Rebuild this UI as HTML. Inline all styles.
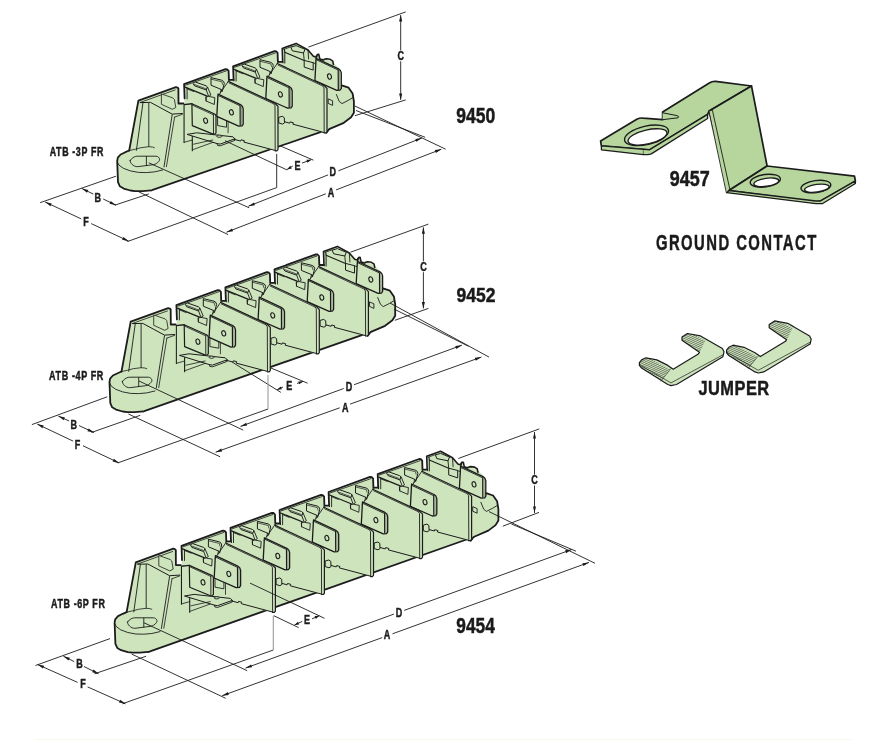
<!DOCTYPE html>
<html><head><meta charset="utf-8"><style>
html,body{margin:0;padding:0;background:#fff;}
svg{display:block;} text{-webkit-font-smoothing:antialiased;}
</style></head><body>
<svg width="870" height="740" viewBox="0 0 870 740">
<rect width="870" height="740" fill="#fff"/>
<g style="will-change:transform">
<polygon points="151.2,190.3 329.1,129.2 332.2,78.4 282.2,62.9 183.4,104.7 138.4,100.7" fill="#cde4bc"/>
<polyline points="151.2,190.3 329.1,129.2" fill="none" stroke="#1c1c1c" stroke-width="1.8" stroke-linejoin="round" stroke-linecap="round"/>
<polygon points="282.2,48.4 296.1,43.4 308.0,50.0 313.4,56.2 316.5,57.2 317.2,54.6 318.8,54.4 319.8,59.0 324.4,58.0 333.1,62.4 339.9,68.8 341.7,85.4 348.6,87.7 352.6,93.4 353.9,101.4 353.9,112.7 351.1,117.3 343.8,122.8 329.1,129.2 326.3,132.9 282.2,108.4" fill="#cde4bc"/>
<polyline points="282.7,62.6 282.2,48.4 296.1,43.4 308.0,50.0 313.4,56.2 316.5,57.2 317.2,54.6 318.8,54.4 319.8,59.0 323.1,60.1 324.7,59.2 326.3,58.8 330.1,59.3 332.8,61.2 333.4,64.4" fill="none" stroke="#1c1c1c" stroke-width="1.6" stroke-linejoin="round" stroke-linecap="round"/>
<polyline points="283.7,49.4 290.9,46.8" fill="none" stroke="#1c1c1c" stroke-width="0.8" stroke-linejoin="round" stroke-linecap="round"/>
<polyline points="284.8,52.2 284.8,63.1" fill="none" stroke="#1c1c1c" stroke-width="1.0" stroke-linejoin="round" stroke-linecap="round"/>
<polyline points="284.4,49.4 284.8,52.2 304.2,60.4" fill="none" stroke="#1c1c1c" stroke-width="1.1" stroke-linejoin="round" stroke-linecap="round"/>
<polyline points="313.2,62.7 316.2,64.0" fill="none" stroke="#1c1c1c" stroke-width="0.9" stroke-linejoin="round" stroke-linecap="round"/>
<polygon points="290.9,47.1 296.1,45.6 305.0,49.3 303.5,53.0 292.3,50.8" fill="#cde4bc" stroke="#1c1c1c" stroke-width="1.0" stroke-linejoin="round"/>
<polyline points="303.5,53.0 304.2,60.4" fill="none" stroke="#1c1c1c" stroke-width="0.9" stroke-linejoin="round" stroke-linecap="round"/>
<polyline points="308.0,50.0 308.6,59.0" fill="none" stroke="#1c1c1c" stroke-width="0.9" stroke-linejoin="round" stroke-linecap="round"/>
<polygon points="304.2,60.4 313.2,62.7 313.2,70.1 304.2,67.1" fill="#cde4bc" stroke="#1c1c1c" stroke-width="1.0" stroke-linejoin="round"/>
<polyline points="316.2,55.4 316.2,80.4" fill="none" stroke="#1c1c1c" stroke-width="0.9" stroke-linejoin="round" stroke-linecap="round"/>
<polyline points="339.9,88.9 341.7,85.4 348.6,87.7 352.6,93.4 353.9,101.4 353.9,112.7 351.1,117.3 343.8,122.8 329.1,129.2 326.3,132.9" fill="none" stroke="#1c1c1c" stroke-width="1.8" stroke-linejoin="round" stroke-linecap="round"/>
<polyline points="336.4,94.5 339.2,101.4 342.0,103.6 348.2,100.4 353.2,97.4" fill="none" stroke="#1c1c1c" stroke-width="0.9" stroke-linejoin="round" stroke-linecap="round"/>
<polygon points="328.2,98.9 332.6,100.8 332.6,105.4 328.2,103.4" fill="#cde4bc" stroke="#1c1c1c" stroke-width="0.9" stroke-linejoin="round"/>
<polygon points="316.1,58.3 338.5,68.8 340.4,70.4 341.3,72.9 341.3,88.3 340.2,90.0 336.8,90.3 314.9,80.6" fill="#cde4bc" stroke="#1c1c1c" stroke-width="1.3" stroke-linejoin="round"/>
<polyline points="338.2,70.2 338.3,89.6" fill="none" stroke="#1c1c1c" stroke-width="1.2" stroke-linejoin="round" stroke-linecap="round"/>
<polyline points="339.6,70.8 339.7,89.2" fill="none" stroke="#555" stroke-width="0.5" stroke-linejoin="round" stroke-linecap="round"/>
<polyline points="316.5,59.8 338.2,70.0" fill="none" stroke="#1c1c1c" stroke-width="0.9" stroke-linejoin="round" stroke-linecap="round"/>
<ellipse cx="329.5" cy="76.5" rx="1.9" ry="2.7" fill="#cde4bc" stroke="#1c1c1c" stroke-width="1.1" transform="rotate(-15 329.5 76.5)"/>
<polygon points="233.1,66.3 274.5,51.2 277.7,52.8 278.5,61.7 282.5,61.7 282.5,106.3 233.8,106.3" fill="#cde4bc"/>
<polyline points="233.6,80.5 233.1,66.3 274.5,51.2 276.2,51.4 277.6,52.9 277.9,61.9 282.5,61.9" fill="none" stroke="#1c1c1c" stroke-width="1.8" stroke-linejoin="round" stroke-linecap="round"/>
<polyline points="234.6,67.3 275.5,52.9" fill="none" stroke="#1c1c1c" stroke-width="0.8" stroke-linejoin="round" stroke-linecap="round"/>
<polyline points="236.1,70.3 236.1,81.0" fill="none" stroke="#1c1c1c" stroke-width="0.9" stroke-linejoin="round" stroke-linecap="round"/>
<polyline points="234.1,69.3 256.2,78.3" fill="none" stroke="#1c1c1c" stroke-width="1.3" stroke-linejoin="round" stroke-linecap="round"/>
<polyline points="235.9,70.9 242.7,73.7" fill="none" stroke="#1c1c1c" stroke-width="0.8" stroke-linejoin="round" stroke-linecap="round"/>
<polygon points="242.1,65.7 243.1,64.5 244.3,64.1 255.1,67.9 256.5,69.1 255.3,72.1 243.5,67.9" fill="#cde4bc" stroke="#1c1c1c" stroke-width="1.0" stroke-linejoin="round"/>
<polyline points="243.3,66.5 254.5,70.7" fill="none" stroke="#1c1c1c" stroke-width="0.7" stroke-linejoin="round" stroke-linecap="round"/>
<polygon points="255.3,72.1 256.5,69.1 259.9,77.1 257.7,78.5" fill="#cde4bc" stroke="#1c1c1c" stroke-width="0.9" stroke-linejoin="round"/>
<polygon points="254.8,79.0 257.7,78.5 263.8,79.7 263.3,86.6 255.1,83.1" fill="#cde4bc" stroke="#1c1c1c" stroke-width="0.9" stroke-linejoin="round"/>
<polyline points="255.1,79.1 255.1,83.1" fill="none" stroke="#1c1c1c" stroke-width="0.9" stroke-linejoin="round" stroke-linecap="round"/>
<polygon points="260.0,59.7 270.7,62.3 272.7,63.7 273.3,65.5 271.1,73.7 270.1,71.5 260.0,67.3" fill="#cde4bc" stroke="#1c1c1c" stroke-width="1.0" stroke-linejoin="round"/>
<polyline points="260.3,61.3 270.9,63.9 271.5,66.5" fill="none" stroke="#1c1c1c" stroke-width="0.7" stroke-linejoin="round" stroke-linecap="round"/>
<polyline points="270.1,71.5 269.3,74.9" fill="none" stroke="#1c1c1c" stroke-width="0.8" stroke-linejoin="round" stroke-linecap="round"/>
<polyline points="277.9,62.6 266.7,78.8" fill="none" stroke="#1c1c1c" stroke-width="0.9" stroke-linejoin="round" stroke-linecap="round"/>
<polygon points="277.3,63.5 322.7,84.7 324.7,86.1 327.0,88.5 327.0,131.7 325.9,132.9 324.1,132.9 282.1,121.1 277.3,118.3" fill="#cde4bc"/>
<polyline points="277.3,63.5 322.7,84.7 324.7,86.1 327.0,88.5 327.0,131.7 325.9,132.9 324.1,132.9" fill="none" stroke="#1c1c1c" stroke-width="1.2" stroke-linejoin="round" stroke-linecap="round"/>
<polyline points="322.9,86.1 324.0,87.9 324.2,132.5" fill="none" stroke="#1c1c1c" stroke-width="0.9" stroke-linejoin="round" stroke-linecap="round"/>
<polyline points="278.1,65.1 322.5,85.9" fill="none" stroke="#1c1c1c" stroke-width="0.8" stroke-linejoin="round" stroke-linecap="round"/>
<polyline points="282.1,121.1 289.7,123.2 290.1,121.9 293.3,122.7 292.9,124.2 324.1,132.5" fill="none" stroke="#1c1c1c" stroke-width="1.0" stroke-linejoin="round" stroke-linecap="round"/>
<polygon points="278.7,117.3 282.3,116.3 284.3,117.7 284.5,122.9 282.5,124.1 278.7,122.9" fill="#cde4bc" stroke="#1c1c1c" stroke-width="1.0" stroke-linejoin="round"/>
<polygon points="267.0,76.2 289.4,86.7 291.3,88.3 292.2,90.8 292.2,106.2 291.1,107.9 287.7,108.2 265.8,98.5" fill="#cde4bc" stroke="#1c1c1c" stroke-width="1.3" stroke-linejoin="round"/>
<polyline points="289.1,88.1 289.2,107.5" fill="none" stroke="#1c1c1c" stroke-width="1.2" stroke-linejoin="round" stroke-linecap="round"/>
<polyline points="290.5,88.7 290.6,107.1" fill="none" stroke="#555" stroke-width="0.5" stroke-linejoin="round" stroke-linecap="round"/>
<polyline points="267.4,77.7 289.1,87.9" fill="none" stroke="#1c1c1c" stroke-width="0.9" stroke-linejoin="round" stroke-linecap="round"/>
<ellipse cx="280.4" cy="94.4" rx="1.9" ry="2.7" fill="#cde4bc" stroke="#1c1c1c" stroke-width="1.1" transform="rotate(-15 280.4 94.4)"/>
<polygon points="184.1,84.2 225.5,69.1 228.7,70.7 229.5,79.6 233.5,79.6 233.5,124.2 184.8,124.2" fill="#cde4bc"/>
<polyline points="184.6,98.4 184.1,84.2 225.5,69.1 227.2,69.3 228.6,70.8 228.9,79.8 233.5,79.8" fill="none" stroke="#1c1c1c" stroke-width="1.8" stroke-linejoin="round" stroke-linecap="round"/>
<polyline points="185.6,85.2 226.5,70.8" fill="none" stroke="#1c1c1c" stroke-width="0.8" stroke-linejoin="round" stroke-linecap="round"/>
<polyline points="187.1,88.2 187.1,98.9" fill="none" stroke="#1c1c1c" stroke-width="0.9" stroke-linejoin="round" stroke-linecap="round"/>
<polyline points="185.1,87.2 207.2,96.2" fill="none" stroke="#1c1c1c" stroke-width="1.3" stroke-linejoin="round" stroke-linecap="round"/>
<polyline points="186.9,88.8 193.7,91.6" fill="none" stroke="#1c1c1c" stroke-width="0.8" stroke-linejoin="round" stroke-linecap="round"/>
<polygon points="193.1,83.6 194.1,82.4 195.3,82.0 206.1,85.8 207.5,87.0 206.3,90.0 194.5,85.8" fill="#cde4bc" stroke="#1c1c1c" stroke-width="1.0" stroke-linejoin="round"/>
<polyline points="194.3,84.4 205.5,88.6" fill="none" stroke="#1c1c1c" stroke-width="0.7" stroke-linejoin="round" stroke-linecap="round"/>
<polygon points="206.3,90.0 207.5,87.0 210.9,95.0 208.7,96.4" fill="#cde4bc" stroke="#1c1c1c" stroke-width="0.9" stroke-linejoin="round"/>
<polygon points="205.8,96.9 208.7,96.4 214.8,97.6 214.3,104.5 206.1,101.0" fill="#cde4bc" stroke="#1c1c1c" stroke-width="0.9" stroke-linejoin="round"/>
<polyline points="206.1,97.0 206.1,101.0" fill="none" stroke="#1c1c1c" stroke-width="0.9" stroke-linejoin="round" stroke-linecap="round"/>
<polygon points="211.0,77.6 221.7,80.2 223.7,81.6 224.3,83.4 222.1,91.6 221.1,89.4 211.0,85.2" fill="#cde4bc" stroke="#1c1c1c" stroke-width="1.0" stroke-linejoin="round"/>
<polyline points="211.3,79.2 221.9,81.8 222.5,84.4" fill="none" stroke="#1c1c1c" stroke-width="0.7" stroke-linejoin="round" stroke-linecap="round"/>
<polyline points="221.1,89.4 220.3,92.8" fill="none" stroke="#1c1c1c" stroke-width="0.8" stroke-linejoin="round" stroke-linecap="round"/>
<polyline points="228.9,80.5 217.7,96.7" fill="none" stroke="#1c1c1c" stroke-width="0.9" stroke-linejoin="round" stroke-linecap="round"/>
<polygon points="228.3,81.4 273.7,102.6 275.7,104.0 278.0,106.4 278.0,149.6 276.9,150.8 275.1,150.8 233.1,139.0 228.3,136.2" fill="#cde4bc"/>
<polyline points="228.3,81.4 273.7,102.6 275.7,104.0 278.0,106.4 278.0,149.6 276.9,150.8 275.1,150.8" fill="none" stroke="#1c1c1c" stroke-width="1.2" stroke-linejoin="round" stroke-linecap="round"/>
<polyline points="273.9,104.0 275.0,105.8 275.2,150.4" fill="none" stroke="#1c1c1c" stroke-width="0.9" stroke-linejoin="round" stroke-linecap="round"/>
<polyline points="229.1,83.0 273.5,103.8" fill="none" stroke="#1c1c1c" stroke-width="0.8" stroke-linejoin="round" stroke-linecap="round"/>
<polyline points="233.1,139.0 240.7,141.1 241.1,139.8 244.3,140.6 243.9,142.1 275.1,150.4" fill="none" stroke="#1c1c1c" stroke-width="1.0" stroke-linejoin="round" stroke-linecap="round"/>
<polygon points="217.6,116.7 226.5,118.3 226.5,127.2 217.6,125.6" fill="#cde4bc" stroke="#1c1c1c" stroke-width="0.9" stroke-linejoin="round"/>
<polyline points="228.1,120.8 228.1,132.8" fill="none" stroke="#1c1c1c" stroke-width="0.8" stroke-linejoin="round" stroke-linecap="round"/>
<polygon points="218.0,94.1 240.4,104.6 242.3,106.2 243.2,108.7 243.2,124.1 242.1,125.8 238.7,126.1 216.8,116.4" fill="#cde4bc" stroke="#1c1c1c" stroke-width="1.3" stroke-linejoin="round"/>
<polyline points="240.1,106.0 240.2,125.4" fill="none" stroke="#1c1c1c" stroke-width="1.2" stroke-linejoin="round" stroke-linecap="round"/>
<polyline points="241.5,106.6 241.6,125.0" fill="none" stroke="#555" stroke-width="0.5" stroke-linejoin="round" stroke-linecap="round"/>
<polyline points="218.4,95.6 240.1,105.8" fill="none" stroke="#1c1c1c" stroke-width="0.9" stroke-linejoin="round" stroke-linecap="round"/>
<ellipse cx="231.4" cy="112.3" rx="1.9" ry="2.7" fill="#cde4bc" stroke="#1c1c1c" stroke-width="1.1" transform="rotate(-15 231.4 112.3)"/>
<polygon points="183.9,104.6 191.9,103.8 192.3,135.2 192.3,150.2 183.9,142.4" fill="#cde4bc"/>
<polyline points="183.9,142.4 183.9,104.6 191.9,103.8" fill="none" stroke="#1c1c1c" stroke-width="1.4" stroke-linejoin="round" stroke-linecap="round"/>
<polyline points="192.3,135.2 192.3,150.7" fill="none" stroke="#1c1c1c" stroke-width="1.1" stroke-linejoin="round" stroke-linecap="round"/>
<polyline points="183.9,142.4 192.3,140.0" fill="none" stroke="#1c1c1c" stroke-width="0.8" stroke-linejoin="round" stroke-linecap="round"/>
<polygon points="191.9,103.8 213.6,113.5 215.3,114.5 216.0,116.1 216.0,132.8 214.7,134.2 213.6,134.4 192.3,125.6" fill="#cde4bc" stroke="#1c1c1c" stroke-width="1.2" stroke-linejoin="round"/>
<polyline points="213.4,114.6 213.5,134.0" fill="none" stroke="#1c1c1c" stroke-width="0.9" stroke-linejoin="round" stroke-linecap="round"/>
<polyline points="192.5,105.2 213.6,114.9" fill="none" stroke="#1c1c1c" stroke-width="0.8" stroke-linejoin="round" stroke-linecap="round"/>
<ellipse cx="205.6" cy="120.7" rx="1.9" ry="2.7" fill="#cde4bc" stroke="#1c1c1c" stroke-width="1.1" transform="rotate(-15 205.6 120.7)"/>
<polygon points="187.1,134.4 196.7,132.8 232.9,136.8 234.9,138.8 220.1,144.1 217.1,143.6" fill="#cde4bc" stroke="#1c1c1c" stroke-width="1.0" stroke-linejoin="round"/>
<polyline points="217.1,143.6 217.5,145.4 220.3,145.8 234.9,140.4 234.9,138.8" fill="none" stroke="#1c1c1c" stroke-width="0.9" stroke-linejoin="round" stroke-linecap="round"/>
<ellipse cx="219.3" cy="136.2" rx="2.6" ry="1.1" fill="#cde4bc" stroke="#1c1c1c" stroke-width="0.9" transform="rotate(0 219.3 136.2)"/>
<polyline points="193.5,144.2 212.8,140.0" fill="none" stroke="#1c1c1c" stroke-width="0.8" stroke-linejoin="round" stroke-linecap="round"/>
<polyline points="192.7,149.7 212.8,142.4" fill="none" stroke="#1c1c1c" stroke-width="0.8" stroke-linejoin="round" stroke-linecap="round"/>
<polygon points="138.4,100.7 175.9,87.1 178.2,88.3 178.5,103.5 183.4,103.5 183.4,160.7 164.2,166.7 162.6,170.0 151.2,190.3 135.0,191.1 123.7,188.6 118.0,182.2 117.2,161.1 118.8,156.2 125.3,152.2 129.4,150.5" fill="#cde4bc"/>
<polyline points="129.2,150.5 138.4,100.7 175.9,87.1 177.4,87.5 178.4,88.5 178.5,103.5 183.4,103.5" fill="none" stroke="#1c1c1c" stroke-width="1.8" stroke-linejoin="round" stroke-linecap="round"/>
<polyline points="143.0,102.5 136.4,150.3" fill="none" stroke="#1c1c1c" stroke-width="0.9" stroke-linejoin="round" stroke-linecap="round"/>
<polyline points="140.4,102.6 150.5,102.4 172.2,114.1 182.4,113.5" fill="none" stroke="#1c1c1c" stroke-width="1.0" stroke-linejoin="round" stroke-linecap="round"/>
<polyline points="148.8,102.9 148.8,146.5" fill="none" stroke="#333" stroke-width="1.0" stroke-linejoin="round" stroke-linecap="round"/>
<polyline points="140.0,102.5 175.2,89.9" fill="none" stroke="#1c1c1c" stroke-width="0.8" stroke-linejoin="round" stroke-linecap="round"/>
<polyline points="172.2,114.7 164.0,166.9" fill="none" stroke="#1c1c1c" stroke-width="0.9" stroke-linejoin="round" stroke-linecap="round"/>
<polyline points="174.6,117.1 166.4,166.7" fill="none" stroke="#1c1c1c" stroke-width="0.8" stroke-linejoin="round" stroke-linecap="round"/>
<polyline points="174.6,117.1 182.4,114.3" fill="none" stroke="#1c1c1c" stroke-width="0.8" stroke-linejoin="round" stroke-linecap="round"/>
<polygon points="161.4,93.9 172.8,97.9 174.4,99.5 175.8,107.5 172.4,109.3 161.4,104.3" fill="#cde4bc" stroke="#1c1c1c" stroke-width="0.8" stroke-linejoin="round"/>
<polyline points="129.2,150.5 125.3,152.2 120.6,154.5 117.8,157.7 117.2,161.1 118.0,182.2 119.9,186.3 123.7,188.6 130.4,190.5 135.0,191.1 142.4,191.1 151.2,190.3" fill="none" stroke="#1c1c1c" stroke-width="1.8" stroke-linejoin="round" stroke-linecap="round"/>
<polyline points="117.4,162.2 119.0,165.1 123.4,168.3 130.4,170.9 138.4,172.4 146.4,172.6 154.4,171.9 162.6,170.0" fill="none" stroke="#1c1c1c" stroke-width="0.9" stroke-linejoin="round" stroke-linecap="round"/>
<polyline points="129.4,150.5 135.4,149.2 140.9,147.7 148.8,146.7 152.4,147.0 154.4,147.7" fill="none" stroke="#1c1c1c" stroke-width="0.8" stroke-linejoin="round" stroke-linecap="round"/>
<path d="M130.2,160.3 C132.4,157.2 135.4,156.2 137.4,156.2 L156.1,156.2 C159.4,156.5 160.4,159.7 158.9,161.2 C157.4,163.2 155.4,164.3 153.4,164.7 L137.4,166.7 C133.4,166.7 129.4,162.7 130.2,160.3 Z" fill="none" stroke="#1c1c1c" stroke-width="0.9" stroke-linejoin="round" stroke-linecap="round"/>
<polyline points="146.4,156.5 146.4,165.5" fill="none" stroke="#1c1c1c" stroke-width="0.9" stroke-linejoin="round" stroke-linecap="round"/>
<polygon points="143.5,411.3 370.4,332.2 373.5,281.4 323.5,265.9 175.7,325.7 130.7,321.7" fill="#cde4bc"/>
<polyline points="143.5,411.3 370.4,332.2" fill="none" stroke="#1c1c1c" stroke-width="1.8" stroke-linejoin="round" stroke-linecap="round"/>
<polygon points="323.5,251.4 337.4,246.4 349.3,253.0 354.7,259.2 357.8,260.2 358.5,257.6 360.1,257.4 361.1,262.0 365.7,261.0 374.4,265.4 381.2,271.8 383.0,288.4 389.9,290.7 393.9,296.4 395.2,304.4 395.2,315.7 392.4,320.3 385.1,325.8 370.4,332.2 367.6,335.9 323.5,311.4" fill="#cde4bc"/>
<polyline points="324.0,265.6 323.5,251.4 337.4,246.4 349.3,253.0 354.7,259.2 357.8,260.2 358.5,257.6 360.1,257.4 361.1,262.0 364.4,263.1 366.0,262.2 367.6,261.8 371.4,262.3 374.1,264.2 374.7,267.4" fill="none" stroke="#1c1c1c" stroke-width="1.6" stroke-linejoin="round" stroke-linecap="round"/>
<polyline points="325.0,252.4 332.2,249.8" fill="none" stroke="#1c1c1c" stroke-width="0.8" stroke-linejoin="round" stroke-linecap="round"/>
<polyline points="326.1,255.2 326.1,266.1" fill="none" stroke="#1c1c1c" stroke-width="1.0" stroke-linejoin="round" stroke-linecap="round"/>
<polyline points="325.7,252.4 326.1,255.2 345.5,263.4" fill="none" stroke="#1c1c1c" stroke-width="1.1" stroke-linejoin="round" stroke-linecap="round"/>
<polyline points="354.5,265.7 357.5,267.0" fill="none" stroke="#1c1c1c" stroke-width="0.9" stroke-linejoin="round" stroke-linecap="round"/>
<polygon points="332.2,250.1 337.4,248.6 346.3,252.3 344.8,256.0 333.6,253.8" fill="#cde4bc" stroke="#1c1c1c" stroke-width="1.0" stroke-linejoin="round"/>
<polyline points="344.8,256.0 345.5,263.4" fill="none" stroke="#1c1c1c" stroke-width="0.9" stroke-linejoin="round" stroke-linecap="round"/>
<polyline points="349.3,253.0 349.9,262.0" fill="none" stroke="#1c1c1c" stroke-width="0.9" stroke-linejoin="round" stroke-linecap="round"/>
<polygon points="345.5,263.4 354.5,265.7 354.5,273.1 345.5,270.1" fill="#cde4bc" stroke="#1c1c1c" stroke-width="1.0" stroke-linejoin="round"/>
<polyline points="357.5,258.4 357.5,283.4" fill="none" stroke="#1c1c1c" stroke-width="0.9" stroke-linejoin="round" stroke-linecap="round"/>
<polyline points="381.2,291.9 383.0,288.4 389.9,290.7 393.9,296.4 395.2,304.4 395.2,315.7 392.4,320.3 385.1,325.8 370.4,332.2 367.6,335.9" fill="none" stroke="#1c1c1c" stroke-width="1.8" stroke-linejoin="round" stroke-linecap="round"/>
<polyline points="377.7,297.5 380.5,304.4 383.3,306.6 389.5,303.4 394.5,300.4" fill="none" stroke="#1c1c1c" stroke-width="0.9" stroke-linejoin="round" stroke-linecap="round"/>
<polygon points="369.5,301.9 373.9,303.8 373.9,308.4 369.5,306.4" fill="#cde4bc" stroke="#1c1c1c" stroke-width="0.9" stroke-linejoin="round"/>
<polygon points="357.4,261.3 379.8,271.8 381.7,273.4 382.6,275.9 382.6,291.3 381.5,293.0 378.1,293.3 356.2,283.6" fill="#cde4bc" stroke="#1c1c1c" stroke-width="1.3" stroke-linejoin="round"/>
<polyline points="379.5,273.2 379.6,292.6" fill="none" stroke="#1c1c1c" stroke-width="1.2" stroke-linejoin="round" stroke-linecap="round"/>
<polyline points="380.9,273.8 381.0,292.2" fill="none" stroke="#555" stroke-width="0.5" stroke-linejoin="round" stroke-linecap="round"/>
<polyline points="357.8,262.8 379.5,273.0" fill="none" stroke="#1c1c1c" stroke-width="0.9" stroke-linejoin="round" stroke-linecap="round"/>
<ellipse cx="370.8" cy="279.5" rx="1.9" ry="2.7" fill="#cde4bc" stroke="#1c1c1c" stroke-width="1.1" transform="rotate(-15 370.8 279.5)"/>
<polygon points="274.5,269.4 315.9,254.3 319.1,255.9 319.9,264.8 323.9,264.8 323.9,309.4 275.2,309.4" fill="#cde4bc"/>
<polyline points="275.0,283.6 274.5,269.4 315.9,254.3 317.6,254.5 319.0,256.0 319.3,265.0 323.9,265.0" fill="none" stroke="#1c1c1c" stroke-width="1.8" stroke-linejoin="round" stroke-linecap="round"/>
<polyline points="276.0,270.4 316.9,256.0" fill="none" stroke="#1c1c1c" stroke-width="0.8" stroke-linejoin="round" stroke-linecap="round"/>
<polyline points="277.5,273.4 277.5,284.1" fill="none" stroke="#1c1c1c" stroke-width="0.9" stroke-linejoin="round" stroke-linecap="round"/>
<polyline points="275.5,272.4 297.6,281.4" fill="none" stroke="#1c1c1c" stroke-width="1.3" stroke-linejoin="round" stroke-linecap="round"/>
<polyline points="277.3,274.0 284.1,276.8" fill="none" stroke="#1c1c1c" stroke-width="0.8" stroke-linejoin="round" stroke-linecap="round"/>
<polygon points="283.5,268.8 284.5,267.6 285.7,267.2 296.5,271.0 297.9,272.2 296.7,275.2 284.9,271.0" fill="#cde4bc" stroke="#1c1c1c" stroke-width="1.0" stroke-linejoin="round"/>
<polyline points="284.7,269.6 295.9,273.8" fill="none" stroke="#1c1c1c" stroke-width="0.7" stroke-linejoin="round" stroke-linecap="round"/>
<polygon points="296.7,275.2 297.9,272.2 301.3,280.2 299.1,281.6" fill="#cde4bc" stroke="#1c1c1c" stroke-width="0.9" stroke-linejoin="round"/>
<polygon points="296.2,282.1 299.1,281.6 305.2,282.8 304.7,289.7 296.5,286.2" fill="#cde4bc" stroke="#1c1c1c" stroke-width="0.9" stroke-linejoin="round"/>
<polyline points="296.5,282.2 296.5,286.2" fill="none" stroke="#1c1c1c" stroke-width="0.9" stroke-linejoin="round" stroke-linecap="round"/>
<polygon points="301.4,262.8 312.1,265.4 314.1,266.8 314.7,268.6 312.5,276.8 311.5,274.6 301.4,270.4" fill="#cde4bc" stroke="#1c1c1c" stroke-width="1.0" stroke-linejoin="round"/>
<polyline points="301.7,264.4 312.3,267.0 312.9,269.6" fill="none" stroke="#1c1c1c" stroke-width="0.7" stroke-linejoin="round" stroke-linecap="round"/>
<polyline points="311.5,274.6 310.7,278.0" fill="none" stroke="#1c1c1c" stroke-width="0.8" stroke-linejoin="round" stroke-linecap="round"/>
<polyline points="319.3,265.7 308.1,281.9" fill="none" stroke="#1c1c1c" stroke-width="0.9" stroke-linejoin="round" stroke-linecap="round"/>
<polygon points="318.7,266.6 364.1,287.8 366.1,289.2 368.4,291.6 368.4,334.8 367.3,336.0 365.5,336.0 323.5,324.2 318.7,321.4" fill="#cde4bc"/>
<polyline points="318.7,266.6 364.1,287.8 366.1,289.2 368.4,291.6 368.4,334.8 367.3,336.0 365.5,336.0" fill="none" stroke="#1c1c1c" stroke-width="1.2" stroke-linejoin="round" stroke-linecap="round"/>
<polyline points="364.3,289.2 365.4,291.0 365.6,335.6" fill="none" stroke="#1c1c1c" stroke-width="0.9" stroke-linejoin="round" stroke-linecap="round"/>
<polyline points="319.5,268.2 363.9,289.0" fill="none" stroke="#1c1c1c" stroke-width="0.8" stroke-linejoin="round" stroke-linecap="round"/>
<polyline points="323.5,324.2 331.1,326.3 331.5,325.0 334.7,325.8 334.3,327.3 365.5,335.6" fill="none" stroke="#1c1c1c" stroke-width="1.0" stroke-linejoin="round" stroke-linecap="round"/>
<polygon points="320.1,320.4 323.7,319.4 325.7,320.8 325.9,326.0 323.9,327.2 320.1,326.0" fill="#cde4bc" stroke="#1c1c1c" stroke-width="1.0" stroke-linejoin="round"/>
<polygon points="308.4,279.3 330.8,289.8 332.7,291.4 333.6,293.9 333.6,309.3 332.5,311.0 329.1,311.3 307.2,301.6" fill="#cde4bc" stroke="#1c1c1c" stroke-width="1.3" stroke-linejoin="round"/>
<polyline points="330.5,291.2 330.6,310.6" fill="none" stroke="#1c1c1c" stroke-width="1.2" stroke-linejoin="round" stroke-linecap="round"/>
<polyline points="331.9,291.8 332.0,310.2" fill="none" stroke="#555" stroke-width="0.5" stroke-linejoin="round" stroke-linecap="round"/>
<polyline points="308.8,280.8 330.5,291.0" fill="none" stroke="#1c1c1c" stroke-width="0.9" stroke-linejoin="round" stroke-linecap="round"/>
<ellipse cx="321.8" cy="297.5" rx="1.9" ry="2.7" fill="#cde4bc" stroke="#1c1c1c" stroke-width="1.1" transform="rotate(-15 321.8 297.5)"/>
<polygon points="225.4,287.3 266.8,272.2 270.0,273.8 270.8,282.7 274.8,282.7 274.8,327.3 226.1,327.3" fill="#cde4bc"/>
<polyline points="225.9,301.5 225.4,287.3 266.8,272.2 268.5,272.4 269.9,273.9 270.2,282.9 274.8,282.9" fill="none" stroke="#1c1c1c" stroke-width="1.8" stroke-linejoin="round" stroke-linecap="round"/>
<polyline points="226.9,288.3 267.8,273.9" fill="none" stroke="#1c1c1c" stroke-width="0.8" stroke-linejoin="round" stroke-linecap="round"/>
<polyline points="228.4,291.3 228.4,302.0" fill="none" stroke="#1c1c1c" stroke-width="0.9" stroke-linejoin="round" stroke-linecap="round"/>
<polyline points="226.4,290.3 248.5,299.3" fill="none" stroke="#1c1c1c" stroke-width="1.3" stroke-linejoin="round" stroke-linecap="round"/>
<polyline points="228.2,291.9 235.0,294.7" fill="none" stroke="#1c1c1c" stroke-width="0.8" stroke-linejoin="round" stroke-linecap="round"/>
<polygon points="234.4,286.7 235.4,285.5 236.6,285.1 247.4,288.9 248.8,290.1 247.6,293.1 235.8,288.9" fill="#cde4bc" stroke="#1c1c1c" stroke-width="1.0" stroke-linejoin="round"/>
<polyline points="235.6,287.5 246.8,291.7" fill="none" stroke="#1c1c1c" stroke-width="0.7" stroke-linejoin="round" stroke-linecap="round"/>
<polygon points="247.6,293.1 248.8,290.1 252.2,298.1 250.0,299.5" fill="#cde4bc" stroke="#1c1c1c" stroke-width="0.9" stroke-linejoin="round"/>
<polygon points="247.1,300.0 250.0,299.5 256.1,300.7 255.6,307.6 247.4,304.1" fill="#cde4bc" stroke="#1c1c1c" stroke-width="0.9" stroke-linejoin="round"/>
<polyline points="247.4,300.1 247.4,304.1" fill="none" stroke="#1c1c1c" stroke-width="0.9" stroke-linejoin="round" stroke-linecap="round"/>
<polygon points="252.3,280.7 263.0,283.3 265.0,284.7 265.6,286.5 263.4,294.7 262.4,292.5 252.3,288.3" fill="#cde4bc" stroke="#1c1c1c" stroke-width="1.0" stroke-linejoin="round"/>
<polyline points="252.6,282.3 263.2,284.9 263.8,287.5" fill="none" stroke="#1c1c1c" stroke-width="0.7" stroke-linejoin="round" stroke-linecap="round"/>
<polyline points="262.4,292.5 261.6,295.9" fill="none" stroke="#1c1c1c" stroke-width="0.8" stroke-linejoin="round" stroke-linecap="round"/>
<polyline points="270.2,283.6 259.0,299.8" fill="none" stroke="#1c1c1c" stroke-width="0.9" stroke-linejoin="round" stroke-linecap="round"/>
<polygon points="269.6,284.5 315.0,305.7 317.0,307.1 319.3,309.5 319.3,352.7 318.2,353.9 316.4,353.9 274.4,342.1 269.6,339.3" fill="#cde4bc"/>
<polyline points="269.6,284.5 315.0,305.7 317.0,307.1 319.3,309.5 319.3,352.7 318.2,353.9 316.4,353.9" fill="none" stroke="#1c1c1c" stroke-width="1.2" stroke-linejoin="round" stroke-linecap="round"/>
<polyline points="315.2,307.1 316.3,308.9 316.5,353.5" fill="none" stroke="#1c1c1c" stroke-width="0.9" stroke-linejoin="round" stroke-linecap="round"/>
<polyline points="270.4,286.1 314.8,306.9" fill="none" stroke="#1c1c1c" stroke-width="0.8" stroke-linejoin="round" stroke-linecap="round"/>
<polyline points="274.4,342.1 282.0,344.2 282.4,342.9 285.6,343.7 285.2,345.2 316.4,353.5" fill="none" stroke="#1c1c1c" stroke-width="1.0" stroke-linejoin="round" stroke-linecap="round"/>
<polygon points="271.0,338.3 274.6,337.3 276.6,338.7 276.8,343.9 274.8,345.1 271.0,343.9" fill="#cde4bc" stroke="#1c1c1c" stroke-width="1.0" stroke-linejoin="round"/>
<polygon points="259.3,297.2 281.7,307.7 283.6,309.3 284.5,311.8 284.5,327.2 283.4,328.9 280.0,329.2 258.1,319.5" fill="#cde4bc" stroke="#1c1c1c" stroke-width="1.3" stroke-linejoin="round"/>
<polyline points="281.4,309.1 281.5,328.5" fill="none" stroke="#1c1c1c" stroke-width="1.2" stroke-linejoin="round" stroke-linecap="round"/>
<polyline points="282.8,309.7 282.9,328.1" fill="none" stroke="#555" stroke-width="0.5" stroke-linejoin="round" stroke-linecap="round"/>
<polyline points="259.7,298.7 281.4,308.9" fill="none" stroke="#1c1c1c" stroke-width="0.9" stroke-linejoin="round" stroke-linecap="round"/>
<ellipse cx="272.7" cy="315.4" rx="1.9" ry="2.7" fill="#cde4bc" stroke="#1c1c1c" stroke-width="1.1" transform="rotate(-15 272.7 315.4)"/>
<polygon points="176.4,305.2 217.8,290.1 221.0,291.7 221.8,300.6 225.8,300.6 225.8,345.2 177.1,345.2" fill="#cde4bc"/>
<polyline points="176.9,319.4 176.4,305.2 217.8,290.1 219.5,290.3 220.9,291.8 221.2,300.8 225.8,300.8" fill="none" stroke="#1c1c1c" stroke-width="1.8" stroke-linejoin="round" stroke-linecap="round"/>
<polyline points="177.9,306.2 218.8,291.8" fill="none" stroke="#1c1c1c" stroke-width="0.8" stroke-linejoin="round" stroke-linecap="round"/>
<polyline points="179.4,309.2 179.4,319.9" fill="none" stroke="#1c1c1c" stroke-width="0.9" stroke-linejoin="round" stroke-linecap="round"/>
<polyline points="177.4,308.2 199.5,317.2" fill="none" stroke="#1c1c1c" stroke-width="1.3" stroke-linejoin="round" stroke-linecap="round"/>
<polyline points="179.2,309.8 186.0,312.6" fill="none" stroke="#1c1c1c" stroke-width="0.8" stroke-linejoin="round" stroke-linecap="round"/>
<polygon points="185.4,304.6 186.4,303.4 187.6,303.0 198.4,306.8 199.8,308.0 198.6,311.0 186.8,306.8" fill="#cde4bc" stroke="#1c1c1c" stroke-width="1.0" stroke-linejoin="round"/>
<polyline points="186.6,305.4 197.8,309.6" fill="none" stroke="#1c1c1c" stroke-width="0.7" stroke-linejoin="round" stroke-linecap="round"/>
<polygon points="198.6,311.0 199.8,308.0 203.2,316.0 201.0,317.4" fill="#cde4bc" stroke="#1c1c1c" stroke-width="0.9" stroke-linejoin="round"/>
<polygon points="198.1,317.9 201.0,317.4 207.1,318.6 206.6,325.5 198.4,322.0" fill="#cde4bc" stroke="#1c1c1c" stroke-width="0.9" stroke-linejoin="round"/>
<polyline points="198.4,318.0 198.4,322.0" fill="none" stroke="#1c1c1c" stroke-width="0.9" stroke-linejoin="round" stroke-linecap="round"/>
<polygon points="203.3,298.6 214.0,301.2 216.0,302.6 216.6,304.4 214.4,312.6 213.4,310.4 203.3,306.2" fill="#cde4bc" stroke="#1c1c1c" stroke-width="1.0" stroke-linejoin="round"/>
<polyline points="203.6,300.2 214.2,302.8 214.8,305.4" fill="none" stroke="#1c1c1c" stroke-width="0.7" stroke-linejoin="round" stroke-linecap="round"/>
<polyline points="213.4,310.4 212.6,313.8" fill="none" stroke="#1c1c1c" stroke-width="0.8" stroke-linejoin="round" stroke-linecap="round"/>
<polyline points="221.2,301.5 210.0,317.7" fill="none" stroke="#1c1c1c" stroke-width="0.9" stroke-linejoin="round" stroke-linecap="round"/>
<polygon points="220.6,302.4 266.0,323.6 268.0,325.0 270.3,327.4 270.3,370.6 269.2,371.8 267.4,371.8 225.4,360.0 220.6,357.2" fill="#cde4bc"/>
<polyline points="220.6,302.4 266.0,323.6 268.0,325.0 270.3,327.4 270.3,370.6 269.2,371.8 267.4,371.8" fill="none" stroke="#1c1c1c" stroke-width="1.2" stroke-linejoin="round" stroke-linecap="round"/>
<polyline points="266.2,325.0 267.3,326.8 267.5,371.4" fill="none" stroke="#1c1c1c" stroke-width="0.9" stroke-linejoin="round" stroke-linecap="round"/>
<polyline points="221.4,304.0 265.8,324.8" fill="none" stroke="#1c1c1c" stroke-width="0.8" stroke-linejoin="round" stroke-linecap="round"/>
<polyline points="225.4,360.0 233.0,362.1 233.4,360.8 236.6,361.6 236.2,363.1 267.4,371.4" fill="none" stroke="#1c1c1c" stroke-width="1.0" stroke-linejoin="round" stroke-linecap="round"/>
<polygon points="209.9,337.7 218.8,339.3 218.8,348.2 209.9,346.6" fill="#cde4bc" stroke="#1c1c1c" stroke-width="0.9" stroke-linejoin="round"/>
<polyline points="220.4,341.8 220.4,353.8" fill="none" stroke="#1c1c1c" stroke-width="0.8" stroke-linejoin="round" stroke-linecap="round"/>
<polygon points="210.3,315.1 232.7,325.6 234.6,327.2 235.5,329.7 235.5,345.1 234.4,346.8 231.0,347.1 209.1,337.4" fill="#cde4bc" stroke="#1c1c1c" stroke-width="1.3" stroke-linejoin="round"/>
<polyline points="232.4,327.0 232.5,346.4" fill="none" stroke="#1c1c1c" stroke-width="1.2" stroke-linejoin="round" stroke-linecap="round"/>
<polyline points="233.8,327.6 233.9,346.0" fill="none" stroke="#555" stroke-width="0.5" stroke-linejoin="round" stroke-linecap="round"/>
<polyline points="210.7,316.6 232.4,326.8" fill="none" stroke="#1c1c1c" stroke-width="0.9" stroke-linejoin="round" stroke-linecap="round"/>
<ellipse cx="223.7" cy="333.3" rx="1.9" ry="2.7" fill="#cde4bc" stroke="#1c1c1c" stroke-width="1.1" transform="rotate(-15 223.7 333.3)"/>
<polygon points="176.2,325.6 184.2,324.8 184.6,356.2 184.6,371.2 176.2,363.4" fill="#cde4bc"/>
<polyline points="176.2,363.4 176.2,325.6 184.2,324.8" fill="none" stroke="#1c1c1c" stroke-width="1.4" stroke-linejoin="round" stroke-linecap="round"/>
<polyline points="184.6,356.2 184.6,371.7" fill="none" stroke="#1c1c1c" stroke-width="1.1" stroke-linejoin="round" stroke-linecap="round"/>
<polyline points="176.2,363.4 184.6,361.0" fill="none" stroke="#1c1c1c" stroke-width="0.8" stroke-linejoin="round" stroke-linecap="round"/>
<polygon points="184.2,324.8 205.9,334.5 207.6,335.5 208.3,337.1 208.3,353.8 207.0,355.2 205.9,355.4 184.6,346.6" fill="#cde4bc" stroke="#1c1c1c" stroke-width="1.2" stroke-linejoin="round"/>
<polyline points="205.7,335.6 205.8,355.0" fill="none" stroke="#1c1c1c" stroke-width="0.9" stroke-linejoin="round" stroke-linecap="round"/>
<polyline points="184.8,326.2 205.9,335.9" fill="none" stroke="#1c1c1c" stroke-width="0.8" stroke-linejoin="round" stroke-linecap="round"/>
<ellipse cx="197.9" cy="341.7" rx="1.9" ry="2.7" fill="#cde4bc" stroke="#1c1c1c" stroke-width="1.1" transform="rotate(-15 197.9 341.7)"/>
<polygon points="179.4,355.4 189.0,353.8 225.2,357.8 227.2,359.8 212.4,365.1 209.4,364.6" fill="#cde4bc" stroke="#1c1c1c" stroke-width="1.0" stroke-linejoin="round"/>
<polyline points="209.4,364.6 209.8,366.4 212.6,366.8 227.2,361.4 227.2,359.8" fill="none" stroke="#1c1c1c" stroke-width="0.9" stroke-linejoin="round" stroke-linecap="round"/>
<ellipse cx="211.6" cy="357.2" rx="2.6" ry="1.1" fill="#cde4bc" stroke="#1c1c1c" stroke-width="0.9" transform="rotate(0 211.6 357.2)"/>
<polyline points="185.8,365.2 205.1,361.0" fill="none" stroke="#1c1c1c" stroke-width="0.8" stroke-linejoin="round" stroke-linecap="round"/>
<polyline points="185.0,370.7 205.1,363.4" fill="none" stroke="#1c1c1c" stroke-width="0.8" stroke-linejoin="round" stroke-linecap="round"/>
<polygon points="130.7,321.7 168.2,308.1 170.5,309.3 170.8,324.5 175.7,324.5 175.7,381.7 156.5,387.7 154.9,391.0 143.5,411.3 127.3,412.1 116.0,409.6 110.3,403.2 109.5,382.1 111.1,377.2 117.6,373.2 121.7,371.5" fill="#cde4bc"/>
<polyline points="121.5,371.5 130.7,321.7 168.2,308.1 169.7,308.5 170.7,309.5 170.8,324.5 175.7,324.5" fill="none" stroke="#1c1c1c" stroke-width="1.8" stroke-linejoin="round" stroke-linecap="round"/>
<polyline points="135.3,323.5 128.7,371.3" fill="none" stroke="#1c1c1c" stroke-width="0.9" stroke-linejoin="round" stroke-linecap="round"/>
<polyline points="132.7,323.6 142.8,323.4 164.5,335.1 174.7,334.5" fill="none" stroke="#1c1c1c" stroke-width="1.0" stroke-linejoin="round" stroke-linecap="round"/>
<polyline points="141.1,323.9 141.1,367.5" fill="none" stroke="#333" stroke-width="1.0" stroke-linejoin="round" stroke-linecap="round"/>
<polyline points="132.3,323.5 167.5,310.9" fill="none" stroke="#1c1c1c" stroke-width="0.8" stroke-linejoin="round" stroke-linecap="round"/>
<polyline points="164.5,335.7 156.3,387.9" fill="none" stroke="#1c1c1c" stroke-width="0.9" stroke-linejoin="round" stroke-linecap="round"/>
<polyline points="166.9,338.1 158.7,387.7" fill="none" stroke="#1c1c1c" stroke-width="0.8" stroke-linejoin="round" stroke-linecap="round"/>
<polyline points="166.9,338.1 174.7,335.3" fill="none" stroke="#1c1c1c" stroke-width="0.8" stroke-linejoin="round" stroke-linecap="round"/>
<polygon points="153.7,314.9 165.1,318.9 166.7,320.5 168.1,328.5 164.7,330.3 153.7,325.3" fill="#cde4bc" stroke="#1c1c1c" stroke-width="0.8" stroke-linejoin="round"/>
<polyline points="121.5,371.5 117.6,373.2 112.9,375.5 110.1,378.7 109.5,382.1 110.3,403.2 112.2,407.3 116.0,409.6 122.7,411.5 127.3,412.1 134.7,412.1 143.5,411.3" fill="none" stroke="#1c1c1c" stroke-width="1.8" stroke-linejoin="round" stroke-linecap="round"/>
<polyline points="109.7,383.2 111.3,386.1 115.7,389.3 122.7,391.9 130.7,393.4 138.7,393.6 146.7,392.9 154.9,391.0" fill="none" stroke="#1c1c1c" stroke-width="0.9" stroke-linejoin="round" stroke-linecap="round"/>
<polyline points="121.7,371.5 127.7,370.2 133.2,368.7 141.1,367.7 144.7,368.0 146.7,368.7" fill="none" stroke="#1c1c1c" stroke-width="0.8" stroke-linejoin="round" stroke-linecap="round"/>
<path d="M122.5,381.3 C124.7,378.2 127.7,377.2 129.7,377.2 L148.4,377.2 C151.7,377.5 152.7,380.7 151.2,382.2 C149.7,384.2 147.7,385.3 145.7,385.7 L129.7,387.7 C125.7,387.7 121.7,383.7 122.5,381.3 Z" fill="none" stroke="#1c1c1c" stroke-width="0.9" stroke-linejoin="round" stroke-linecap="round"/>
<polyline points="138.7,377.5 138.7,386.5" fill="none" stroke="#1c1c1c" stroke-width="0.9" stroke-linejoin="round" stroke-linecap="round"/>
<polygon points="148.6,651.9 473.6,537.0 476.7,486.2 426.7,470.7 180.8,566.3 135.8,562.3" fill="#cde4bc"/>
<polyline points="148.6,651.9 473.6,537.0" fill="none" stroke="#1c1c1c" stroke-width="1.8" stroke-linejoin="round" stroke-linecap="round"/>
<polygon points="426.7,456.2 440.6,451.2 452.5,457.8 457.9,464.0 461.0,465.0 461.7,462.4 463.3,462.2 464.3,466.8 468.9,465.8 477.6,470.2 484.4,476.6 486.2,493.2 493.1,495.5 497.1,501.2 498.4,509.2 498.4,520.5 495.6,525.1 488.3,530.6 473.6,537.0 470.8,540.7 426.7,516.2" fill="#cde4bc"/>
<polyline points="427.2,470.4 426.7,456.2 440.6,451.2 452.5,457.8 457.9,464.0 461.0,465.0 461.7,462.4 463.3,462.2 464.3,466.8 467.6,467.9 469.2,467.0 470.8,466.6 474.6,467.1 477.3,469.0 477.9,472.2" fill="none" stroke="#1c1c1c" stroke-width="1.6" stroke-linejoin="round" stroke-linecap="round"/>
<polyline points="428.2,457.2 435.4,454.6" fill="none" stroke="#1c1c1c" stroke-width="0.8" stroke-linejoin="round" stroke-linecap="round"/>
<polyline points="429.3,460.0 429.3,470.9" fill="none" stroke="#1c1c1c" stroke-width="1.0" stroke-linejoin="round" stroke-linecap="round"/>
<polyline points="428.9,457.2 429.3,460.0 448.7,468.2" fill="none" stroke="#1c1c1c" stroke-width="1.1" stroke-linejoin="round" stroke-linecap="round"/>
<polyline points="457.7,470.5 460.7,471.8" fill="none" stroke="#1c1c1c" stroke-width="0.9" stroke-linejoin="round" stroke-linecap="round"/>
<polygon points="435.4,454.9 440.6,453.4 449.5,457.1 448.0,460.8 436.8,458.6" fill="#cde4bc" stroke="#1c1c1c" stroke-width="1.0" stroke-linejoin="round"/>
<polyline points="448.0,460.8 448.7,468.2" fill="none" stroke="#1c1c1c" stroke-width="0.9" stroke-linejoin="round" stroke-linecap="round"/>
<polyline points="452.5,457.8 453.1,466.8" fill="none" stroke="#1c1c1c" stroke-width="0.9" stroke-linejoin="round" stroke-linecap="round"/>
<polygon points="448.7,468.2 457.7,470.5 457.7,477.9 448.7,474.9" fill="#cde4bc" stroke="#1c1c1c" stroke-width="1.0" stroke-linejoin="round"/>
<polyline points="460.7,463.2 460.7,488.2" fill="none" stroke="#1c1c1c" stroke-width="0.9" stroke-linejoin="round" stroke-linecap="round"/>
<polyline points="484.4,496.7 486.2,493.2 493.1,495.5 497.1,501.2 498.4,509.2 498.4,520.5 495.6,525.1 488.3,530.6 473.6,537.0 470.8,540.7" fill="none" stroke="#1c1c1c" stroke-width="1.8" stroke-linejoin="round" stroke-linecap="round"/>
<polyline points="480.9,502.3 483.7,509.2 486.5,511.4 492.7,508.2 497.7,505.2" fill="none" stroke="#1c1c1c" stroke-width="0.9" stroke-linejoin="round" stroke-linecap="round"/>
<polygon points="472.7,506.7 477.1,508.6 477.1,513.2 472.7,511.2" fill="#cde4bc" stroke="#1c1c1c" stroke-width="0.9" stroke-linejoin="round"/>
<polygon points="460.6,466.1 483.0,476.6 484.9,478.2 485.8,480.7 485.8,496.1 484.7,497.8 481.3,498.1 459.4,488.4" fill="#cde4bc" stroke="#1c1c1c" stroke-width="1.3" stroke-linejoin="round"/>
<polyline points="482.7,478.0 482.8,497.4" fill="none" stroke="#1c1c1c" stroke-width="1.2" stroke-linejoin="round" stroke-linecap="round"/>
<polyline points="484.1,478.6 484.2,497.0" fill="none" stroke="#555" stroke-width="0.5" stroke-linejoin="round" stroke-linecap="round"/>
<polyline points="461.0,467.6 482.7,477.8" fill="none" stroke="#1c1c1c" stroke-width="0.9" stroke-linejoin="round" stroke-linecap="round"/>
<ellipse cx="474.0" cy="484.3" rx="1.9" ry="2.7" fill="#cde4bc" stroke="#1c1c1c" stroke-width="1.1" transform="rotate(-15 474.0 484.3)"/>
<polygon points="377.7,474.1 419.1,459.0 422.3,460.6 423.1,469.5 427.1,469.5 427.1,514.1 378.4,514.1" fill="#cde4bc"/>
<polyline points="378.2,488.3 377.7,474.1 419.1,459.0 420.8,459.2 422.2,460.7 422.5,469.7 427.1,469.7" fill="none" stroke="#1c1c1c" stroke-width="1.8" stroke-linejoin="round" stroke-linecap="round"/>
<polyline points="379.2,475.1 420.1,460.7" fill="none" stroke="#1c1c1c" stroke-width="0.8" stroke-linejoin="round" stroke-linecap="round"/>
<polyline points="380.7,478.1 380.7,488.8" fill="none" stroke="#1c1c1c" stroke-width="0.9" stroke-linejoin="round" stroke-linecap="round"/>
<polyline points="378.7,477.1 400.8,486.1" fill="none" stroke="#1c1c1c" stroke-width="1.3" stroke-linejoin="round" stroke-linecap="round"/>
<polyline points="380.5,478.7 387.3,481.5" fill="none" stroke="#1c1c1c" stroke-width="0.8" stroke-linejoin="round" stroke-linecap="round"/>
<polygon points="386.7,473.5 387.7,472.3 388.9,471.9 399.7,475.7 401.1,476.9 399.9,479.9 388.1,475.7" fill="#cde4bc" stroke="#1c1c1c" stroke-width="1.0" stroke-linejoin="round"/>
<polyline points="387.9,474.3 399.1,478.5" fill="none" stroke="#1c1c1c" stroke-width="0.7" stroke-linejoin="round" stroke-linecap="round"/>
<polygon points="399.9,479.9 401.1,476.9 404.5,484.9 402.3,486.3" fill="#cde4bc" stroke="#1c1c1c" stroke-width="0.9" stroke-linejoin="round"/>
<polygon points="399.4,486.8 402.3,486.3 408.4,487.5 407.9,494.4 399.7,490.9" fill="#cde4bc" stroke="#1c1c1c" stroke-width="0.9" stroke-linejoin="round"/>
<polyline points="399.7,486.9 399.7,490.9" fill="none" stroke="#1c1c1c" stroke-width="0.9" stroke-linejoin="round" stroke-linecap="round"/>
<polygon points="404.6,467.5 415.3,470.1 417.3,471.5 417.9,473.3 415.7,481.5 414.7,479.3 404.6,475.1" fill="#cde4bc" stroke="#1c1c1c" stroke-width="1.0" stroke-linejoin="round"/>
<polyline points="404.9,469.1 415.5,471.7 416.1,474.3" fill="none" stroke="#1c1c1c" stroke-width="0.7" stroke-linejoin="round" stroke-linecap="round"/>
<polyline points="414.7,479.3 413.9,482.7" fill="none" stroke="#1c1c1c" stroke-width="0.8" stroke-linejoin="round" stroke-linecap="round"/>
<polyline points="422.5,470.4 411.3,486.6" fill="none" stroke="#1c1c1c" stroke-width="0.9" stroke-linejoin="round" stroke-linecap="round"/>
<polygon points="421.9,471.3 467.3,492.5 469.3,493.9 471.6,496.3 471.6,539.5 470.5,540.7 468.7,540.7 426.7,528.9 421.9,526.1" fill="#cde4bc"/>
<polyline points="421.9,471.3 467.3,492.5 469.3,493.9 471.6,496.3 471.6,539.5 470.5,540.7 468.7,540.7" fill="none" stroke="#1c1c1c" stroke-width="1.2" stroke-linejoin="round" stroke-linecap="round"/>
<polyline points="467.5,493.9 468.6,495.7 468.8,540.3" fill="none" stroke="#1c1c1c" stroke-width="0.9" stroke-linejoin="round" stroke-linecap="round"/>
<polyline points="422.7,472.9 467.1,493.7" fill="none" stroke="#1c1c1c" stroke-width="0.8" stroke-linejoin="round" stroke-linecap="round"/>
<polyline points="426.7,528.9 434.3,531.0 434.7,529.7 437.9,530.5 437.5,532.0 468.7,540.3" fill="none" stroke="#1c1c1c" stroke-width="1.0" stroke-linejoin="round" stroke-linecap="round"/>
<polygon points="423.3,525.1 426.9,524.1 428.9,525.5 429.1,530.7 427.1,531.9 423.3,530.7" fill="#cde4bc" stroke="#1c1c1c" stroke-width="1.0" stroke-linejoin="round"/>
<polygon points="411.6,484.0 434.0,494.5 435.9,496.1 436.8,498.6 436.8,514.0 435.7,515.7 432.3,516.0 410.4,506.3" fill="#cde4bc" stroke="#1c1c1c" stroke-width="1.3" stroke-linejoin="round"/>
<polyline points="433.7,495.9 433.8,515.3" fill="none" stroke="#1c1c1c" stroke-width="1.2" stroke-linejoin="round" stroke-linecap="round"/>
<polyline points="435.1,496.5 435.2,514.9" fill="none" stroke="#555" stroke-width="0.5" stroke-linejoin="round" stroke-linecap="round"/>
<polyline points="412.0,485.5 433.7,495.7" fill="none" stroke="#1c1c1c" stroke-width="0.9" stroke-linejoin="round" stroke-linecap="round"/>
<ellipse cx="425.0" cy="502.2" rx="1.9" ry="2.7" fill="#cde4bc" stroke="#1c1c1c" stroke-width="1.1" transform="rotate(-15 425.0 502.2)"/>
<polygon points="328.6,492.0 370.0,476.9 373.2,478.5 374.0,487.4 378.0,487.4 378.0,532.0 329.3,532.0" fill="#cde4bc"/>
<polyline points="329.1,506.2 328.6,492.0 370.0,476.9 371.7,477.1 373.1,478.6 373.4,487.6 378.0,487.6" fill="none" stroke="#1c1c1c" stroke-width="1.8" stroke-linejoin="round" stroke-linecap="round"/>
<polyline points="330.1,493.0 371.0,478.6" fill="none" stroke="#1c1c1c" stroke-width="0.8" stroke-linejoin="round" stroke-linecap="round"/>
<polyline points="331.6,496.0 331.6,506.7" fill="none" stroke="#1c1c1c" stroke-width="0.9" stroke-linejoin="round" stroke-linecap="round"/>
<polyline points="329.6,495.0 351.7,504.0" fill="none" stroke="#1c1c1c" stroke-width="1.3" stroke-linejoin="round" stroke-linecap="round"/>
<polyline points="331.4,496.6 338.2,499.4" fill="none" stroke="#1c1c1c" stroke-width="0.8" stroke-linejoin="round" stroke-linecap="round"/>
<polygon points="337.6,491.4 338.6,490.2 339.8,489.8 350.6,493.6 352.0,494.8 350.8,497.8 339.0,493.6" fill="#cde4bc" stroke="#1c1c1c" stroke-width="1.0" stroke-linejoin="round"/>
<polyline points="338.8,492.2 350.0,496.4" fill="none" stroke="#1c1c1c" stroke-width="0.7" stroke-linejoin="round" stroke-linecap="round"/>
<polygon points="350.8,497.8 352.0,494.8 355.4,502.8 353.2,504.2" fill="#cde4bc" stroke="#1c1c1c" stroke-width="0.9" stroke-linejoin="round"/>
<polygon points="350.3,504.7 353.2,504.2 359.3,505.4 358.8,512.3 350.6,508.8" fill="#cde4bc" stroke="#1c1c1c" stroke-width="0.9" stroke-linejoin="round"/>
<polyline points="350.6,504.8 350.6,508.8" fill="none" stroke="#1c1c1c" stroke-width="0.9" stroke-linejoin="round" stroke-linecap="round"/>
<polygon points="355.5,485.4 366.2,488.0 368.2,489.4 368.8,491.2 366.6,499.4 365.6,497.2 355.5,493.0" fill="#cde4bc" stroke="#1c1c1c" stroke-width="1.0" stroke-linejoin="round"/>
<polyline points="355.8,487.0 366.4,489.6 367.0,492.2" fill="none" stroke="#1c1c1c" stroke-width="0.7" stroke-linejoin="round" stroke-linecap="round"/>
<polyline points="365.6,497.2 364.8,500.6" fill="none" stroke="#1c1c1c" stroke-width="0.8" stroke-linejoin="round" stroke-linecap="round"/>
<polyline points="373.4,488.3 362.2,504.5" fill="none" stroke="#1c1c1c" stroke-width="0.9" stroke-linejoin="round" stroke-linecap="round"/>
<polygon points="372.8,489.2 418.2,510.4 420.2,511.8 422.5,514.2 422.5,557.4 421.4,558.6 419.6,558.6 377.6,546.8 372.8,544.0" fill="#cde4bc"/>
<polyline points="372.8,489.2 418.2,510.4 420.2,511.8 422.5,514.2 422.5,557.4 421.4,558.6 419.6,558.6" fill="none" stroke="#1c1c1c" stroke-width="1.2" stroke-linejoin="round" stroke-linecap="round"/>
<polyline points="418.4,511.8 419.5,513.6 419.7,558.2" fill="none" stroke="#1c1c1c" stroke-width="0.9" stroke-linejoin="round" stroke-linecap="round"/>
<polyline points="373.6,490.8 418.0,511.6" fill="none" stroke="#1c1c1c" stroke-width="0.8" stroke-linejoin="round" stroke-linecap="round"/>
<polyline points="377.6,546.8 385.2,548.9 385.6,547.6 388.8,548.4 388.4,549.9 419.6,558.2" fill="none" stroke="#1c1c1c" stroke-width="1.0" stroke-linejoin="round" stroke-linecap="round"/>
<polygon points="374.2,543.0 377.8,542.0 379.8,543.4 380.0,548.6 378.0,549.8 374.2,548.6" fill="#cde4bc" stroke="#1c1c1c" stroke-width="1.0" stroke-linejoin="round"/>
<polygon points="362.5,501.9 384.9,512.4 386.8,514.0 387.7,516.5 387.7,531.9 386.6,533.6 383.2,533.9 361.3,524.2" fill="#cde4bc" stroke="#1c1c1c" stroke-width="1.3" stroke-linejoin="round"/>
<polyline points="384.6,513.8 384.7,533.2" fill="none" stroke="#1c1c1c" stroke-width="1.2" stroke-linejoin="round" stroke-linecap="round"/>
<polyline points="386.0,514.4 386.1,532.8" fill="none" stroke="#555" stroke-width="0.5" stroke-linejoin="round" stroke-linecap="round"/>
<polyline points="362.9,503.4 384.6,513.6" fill="none" stroke="#1c1c1c" stroke-width="0.9" stroke-linejoin="round" stroke-linecap="round"/>
<ellipse cx="375.9" cy="520.1" rx="1.9" ry="2.7" fill="#cde4bc" stroke="#1c1c1c" stroke-width="1.1" transform="rotate(-15 375.9 520.1)"/>
<polygon points="279.6,510.0 321.0,494.9 324.2,496.5 325.0,505.4 329.0,505.4 329.0,550.0 280.3,550.0" fill="#cde4bc"/>
<polyline points="280.1,524.2 279.6,510.0 321.0,494.9 322.7,495.1 324.1,496.6 324.4,505.6 329.0,505.6" fill="none" stroke="#1c1c1c" stroke-width="1.8" stroke-linejoin="round" stroke-linecap="round"/>
<polyline points="281.1,511.0 322.0,496.6" fill="none" stroke="#1c1c1c" stroke-width="0.8" stroke-linejoin="round" stroke-linecap="round"/>
<polyline points="282.6,514.0 282.6,524.7" fill="none" stroke="#1c1c1c" stroke-width="0.9" stroke-linejoin="round" stroke-linecap="round"/>
<polyline points="280.6,513.0 302.7,522.0" fill="none" stroke="#1c1c1c" stroke-width="1.3" stroke-linejoin="round" stroke-linecap="round"/>
<polyline points="282.4,514.6 289.2,517.4" fill="none" stroke="#1c1c1c" stroke-width="0.8" stroke-linejoin="round" stroke-linecap="round"/>
<polygon points="288.6,509.4 289.6,508.2 290.8,507.8 301.6,511.6 303.0,512.8 301.8,515.8 290.0,511.6" fill="#cde4bc" stroke="#1c1c1c" stroke-width="1.0" stroke-linejoin="round"/>
<polyline points="289.8,510.2 301.0,514.4" fill="none" stroke="#1c1c1c" stroke-width="0.7" stroke-linejoin="round" stroke-linecap="round"/>
<polygon points="301.8,515.8 303.0,512.8 306.4,520.8 304.2,522.2" fill="#cde4bc" stroke="#1c1c1c" stroke-width="0.9" stroke-linejoin="round"/>
<polygon points="301.3,522.7 304.2,522.2 310.3,523.4 309.8,530.3 301.6,526.8" fill="#cde4bc" stroke="#1c1c1c" stroke-width="0.9" stroke-linejoin="round"/>
<polyline points="301.6,522.8 301.6,526.8" fill="none" stroke="#1c1c1c" stroke-width="0.9" stroke-linejoin="round" stroke-linecap="round"/>
<polygon points="306.5,503.4 317.2,506.0 319.2,507.4 319.8,509.2 317.6,517.4 316.6,515.2 306.5,511.0" fill="#cde4bc" stroke="#1c1c1c" stroke-width="1.0" stroke-linejoin="round"/>
<polyline points="306.8,505.0 317.4,507.6 318.0,510.2" fill="none" stroke="#1c1c1c" stroke-width="0.7" stroke-linejoin="round" stroke-linecap="round"/>
<polyline points="316.6,515.2 315.8,518.6" fill="none" stroke="#1c1c1c" stroke-width="0.8" stroke-linejoin="round" stroke-linecap="round"/>
<polyline points="324.4,506.3 313.2,522.5" fill="none" stroke="#1c1c1c" stroke-width="0.9" stroke-linejoin="round" stroke-linecap="round"/>
<polygon points="323.8,507.2 369.2,528.4 371.2,529.8 373.5,532.2 373.5,575.4 372.4,576.6 370.6,576.6 328.6,564.8 323.8,562.0" fill="#cde4bc"/>
<polyline points="323.8,507.2 369.2,528.4 371.2,529.8 373.5,532.2 373.5,575.4 372.4,576.6 370.6,576.6" fill="none" stroke="#1c1c1c" stroke-width="1.2" stroke-linejoin="round" stroke-linecap="round"/>
<polyline points="369.4,529.8 370.5,531.6 370.7,576.2" fill="none" stroke="#1c1c1c" stroke-width="0.9" stroke-linejoin="round" stroke-linecap="round"/>
<polyline points="324.6,508.8 369.0,529.6" fill="none" stroke="#1c1c1c" stroke-width="0.8" stroke-linejoin="round" stroke-linecap="round"/>
<polyline points="328.6,564.8 336.2,566.9 336.6,565.6 339.8,566.4 339.4,567.9 370.6,576.2" fill="none" stroke="#1c1c1c" stroke-width="1.0" stroke-linejoin="round" stroke-linecap="round"/>
<polygon points="325.2,561.0 328.8,560.0 330.8,561.4 331.0,566.6 329.0,567.8 325.2,566.6" fill="#cde4bc" stroke="#1c1c1c" stroke-width="1.0" stroke-linejoin="round"/>
<polygon points="313.5,519.9 335.9,530.4 337.8,532.0 338.7,534.5 338.7,549.9 337.6,551.6 334.2,551.9 312.3,542.2" fill="#cde4bc" stroke="#1c1c1c" stroke-width="1.3" stroke-linejoin="round"/>
<polyline points="335.6,531.8 335.7,551.2" fill="none" stroke="#1c1c1c" stroke-width="1.2" stroke-linejoin="round" stroke-linecap="round"/>
<polyline points="337.0,532.4 337.1,550.8" fill="none" stroke="#555" stroke-width="0.5" stroke-linejoin="round" stroke-linecap="round"/>
<polyline points="313.9,521.4 335.6,531.6" fill="none" stroke="#1c1c1c" stroke-width="0.9" stroke-linejoin="round" stroke-linecap="round"/>
<ellipse cx="326.9" cy="538.1" rx="1.9" ry="2.7" fill="#cde4bc" stroke="#1c1c1c" stroke-width="1.1" transform="rotate(-15 326.9 538.1)"/>
<polygon points="230.5,527.9 271.9,512.8 275.1,514.4 275.9,523.3 279.9,523.3 279.9,567.9 231.2,567.9" fill="#cde4bc"/>
<polyline points="231.0,542.1 230.5,527.9 271.9,512.8 273.6,513.0 275.0,514.5 275.3,523.5 279.9,523.5" fill="none" stroke="#1c1c1c" stroke-width="1.8" stroke-linejoin="round" stroke-linecap="round"/>
<polyline points="232.0,528.9 272.9,514.5" fill="none" stroke="#1c1c1c" stroke-width="0.8" stroke-linejoin="round" stroke-linecap="round"/>
<polyline points="233.5,531.9 233.5,542.6" fill="none" stroke="#1c1c1c" stroke-width="0.9" stroke-linejoin="round" stroke-linecap="round"/>
<polyline points="231.5,530.9 253.6,539.9" fill="none" stroke="#1c1c1c" stroke-width="1.3" stroke-linejoin="round" stroke-linecap="round"/>
<polyline points="233.3,532.5 240.1,535.3" fill="none" stroke="#1c1c1c" stroke-width="0.8" stroke-linejoin="round" stroke-linecap="round"/>
<polygon points="239.5,527.3 240.5,526.1 241.7,525.7 252.5,529.5 253.9,530.7 252.7,533.7 240.9,529.5" fill="#cde4bc" stroke="#1c1c1c" stroke-width="1.0" stroke-linejoin="round"/>
<polyline points="240.7,528.1 251.9,532.3" fill="none" stroke="#1c1c1c" stroke-width="0.7" stroke-linejoin="round" stroke-linecap="round"/>
<polygon points="252.7,533.7 253.9,530.7 257.3,538.7 255.1,540.1" fill="#cde4bc" stroke="#1c1c1c" stroke-width="0.9" stroke-linejoin="round"/>
<polygon points="252.2,540.6 255.1,540.1 261.2,541.3 260.7,548.2 252.5,544.7" fill="#cde4bc" stroke="#1c1c1c" stroke-width="0.9" stroke-linejoin="round"/>
<polyline points="252.5,540.7 252.5,544.7" fill="none" stroke="#1c1c1c" stroke-width="0.9" stroke-linejoin="round" stroke-linecap="round"/>
<polygon points="257.4,521.3 268.1,523.9 270.1,525.3 270.7,527.1 268.5,535.3 267.5,533.1 257.4,528.9" fill="#cde4bc" stroke="#1c1c1c" stroke-width="1.0" stroke-linejoin="round"/>
<polyline points="257.7,522.9 268.3,525.5 268.9,528.1" fill="none" stroke="#1c1c1c" stroke-width="0.7" stroke-linejoin="round" stroke-linecap="round"/>
<polyline points="267.5,533.1 266.7,536.5" fill="none" stroke="#1c1c1c" stroke-width="0.8" stroke-linejoin="round" stroke-linecap="round"/>
<polyline points="275.3,524.2 264.1,540.4" fill="none" stroke="#1c1c1c" stroke-width="0.9" stroke-linejoin="round" stroke-linecap="round"/>
<polygon points="274.7,525.1 320.1,546.3 322.1,547.7 324.4,550.1 324.4,593.3 323.3,594.5 321.5,594.5 279.5,582.7 274.7,579.9" fill="#cde4bc"/>
<polyline points="274.7,525.1 320.1,546.3 322.1,547.7 324.4,550.1 324.4,593.3 323.3,594.5 321.5,594.5" fill="none" stroke="#1c1c1c" stroke-width="1.2" stroke-linejoin="round" stroke-linecap="round"/>
<polyline points="320.3,547.7 321.4,549.5 321.6,594.1" fill="none" stroke="#1c1c1c" stroke-width="0.9" stroke-linejoin="round" stroke-linecap="round"/>
<polyline points="275.5,526.7 319.9,547.5" fill="none" stroke="#1c1c1c" stroke-width="0.8" stroke-linejoin="round" stroke-linecap="round"/>
<polyline points="279.5,582.7 287.1,584.8 287.5,583.5 290.7,584.3 290.3,585.8 321.5,594.1" fill="none" stroke="#1c1c1c" stroke-width="1.0" stroke-linejoin="round" stroke-linecap="round"/>
<polygon points="276.1,578.9 279.7,577.9 281.7,579.3 281.9,584.5 279.9,585.7 276.1,584.5" fill="#cde4bc" stroke="#1c1c1c" stroke-width="1.0" stroke-linejoin="round"/>
<polygon points="264.4,537.8 286.8,548.3 288.7,549.9 289.6,552.4 289.6,567.8 288.5,569.5 285.1,569.8 263.2,560.1" fill="#cde4bc" stroke="#1c1c1c" stroke-width="1.3" stroke-linejoin="round"/>
<polyline points="286.5,549.7 286.6,569.1" fill="none" stroke="#1c1c1c" stroke-width="1.2" stroke-linejoin="round" stroke-linecap="round"/>
<polyline points="287.9,550.3 288.0,568.7" fill="none" stroke="#555" stroke-width="0.5" stroke-linejoin="round" stroke-linecap="round"/>
<polyline points="264.8,539.3 286.5,549.5" fill="none" stroke="#1c1c1c" stroke-width="0.9" stroke-linejoin="round" stroke-linecap="round"/>
<ellipse cx="277.8" cy="556.0" rx="1.9" ry="2.7" fill="#cde4bc" stroke="#1c1c1c" stroke-width="1.1" transform="rotate(-15 277.8 556.0)"/>
<polygon points="181.5,545.8 222.9,530.7 226.1,532.3 226.9,541.2 230.9,541.2 230.9,585.8 182.2,585.8" fill="#cde4bc"/>
<polyline points="182.0,560.0 181.5,545.8 222.9,530.7 224.6,530.9 226.0,532.4 226.3,541.4 230.9,541.4" fill="none" stroke="#1c1c1c" stroke-width="1.8" stroke-linejoin="round" stroke-linecap="round"/>
<polyline points="183.0,546.8 223.9,532.4" fill="none" stroke="#1c1c1c" stroke-width="0.8" stroke-linejoin="round" stroke-linecap="round"/>
<polyline points="184.5,549.8 184.5,560.5" fill="none" stroke="#1c1c1c" stroke-width="0.9" stroke-linejoin="round" stroke-linecap="round"/>
<polyline points="182.5,548.8 204.6,557.8" fill="none" stroke="#1c1c1c" stroke-width="1.3" stroke-linejoin="round" stroke-linecap="round"/>
<polyline points="184.3,550.4 191.1,553.2" fill="none" stroke="#1c1c1c" stroke-width="0.8" stroke-linejoin="round" stroke-linecap="round"/>
<polygon points="190.5,545.2 191.5,544.0 192.7,543.6 203.5,547.4 204.9,548.6 203.7,551.6 191.9,547.4" fill="#cde4bc" stroke="#1c1c1c" stroke-width="1.0" stroke-linejoin="round"/>
<polyline points="191.7,546.0 202.9,550.2" fill="none" stroke="#1c1c1c" stroke-width="0.7" stroke-linejoin="round" stroke-linecap="round"/>
<polygon points="203.7,551.6 204.9,548.6 208.3,556.6 206.1,558.0" fill="#cde4bc" stroke="#1c1c1c" stroke-width="0.9" stroke-linejoin="round"/>
<polygon points="203.2,558.5 206.1,558.0 212.2,559.2 211.7,566.1 203.5,562.6" fill="#cde4bc" stroke="#1c1c1c" stroke-width="0.9" stroke-linejoin="round"/>
<polyline points="203.5,558.6 203.5,562.6" fill="none" stroke="#1c1c1c" stroke-width="0.9" stroke-linejoin="round" stroke-linecap="round"/>
<polygon points="208.4,539.2 219.1,541.8 221.1,543.2 221.7,545.0 219.5,553.2 218.5,551.0 208.4,546.8" fill="#cde4bc" stroke="#1c1c1c" stroke-width="1.0" stroke-linejoin="round"/>
<polyline points="208.7,540.8 219.3,543.4 219.9,546.0" fill="none" stroke="#1c1c1c" stroke-width="0.7" stroke-linejoin="round" stroke-linecap="round"/>
<polyline points="218.5,551.0 217.7,554.4" fill="none" stroke="#1c1c1c" stroke-width="0.8" stroke-linejoin="round" stroke-linecap="round"/>
<polyline points="226.3,542.1 215.1,558.3" fill="none" stroke="#1c1c1c" stroke-width="0.9" stroke-linejoin="round" stroke-linecap="round"/>
<polygon points="225.7,543.0 271.1,564.2 273.1,565.6 275.4,568.0 275.4,611.2 274.3,612.4 272.5,612.4 230.5,600.6 225.7,597.8" fill="#cde4bc"/>
<polyline points="225.7,543.0 271.1,564.2 273.1,565.6 275.4,568.0 275.4,611.2 274.3,612.4 272.5,612.4" fill="none" stroke="#1c1c1c" stroke-width="1.2" stroke-linejoin="round" stroke-linecap="round"/>
<polyline points="271.3,565.6 272.4,567.4 272.6,612.0" fill="none" stroke="#1c1c1c" stroke-width="0.9" stroke-linejoin="round" stroke-linecap="round"/>
<polyline points="226.5,544.6 270.9,565.4" fill="none" stroke="#1c1c1c" stroke-width="0.8" stroke-linejoin="round" stroke-linecap="round"/>
<polyline points="230.5,600.6 238.1,602.7 238.5,601.4 241.7,602.2 241.3,603.7 272.5,612.0" fill="none" stroke="#1c1c1c" stroke-width="1.0" stroke-linejoin="round" stroke-linecap="round"/>
<polygon points="215.0,578.3 223.9,579.9 223.9,588.8 215.0,587.2" fill="#cde4bc" stroke="#1c1c1c" stroke-width="0.9" stroke-linejoin="round"/>
<polyline points="225.5,582.4 225.5,594.4" fill="none" stroke="#1c1c1c" stroke-width="0.8" stroke-linejoin="round" stroke-linecap="round"/>
<polygon points="215.4,555.7 237.8,566.2 239.7,567.8 240.6,570.3 240.6,585.7 239.5,587.4 236.1,587.7 214.2,578.0" fill="#cde4bc" stroke="#1c1c1c" stroke-width="1.3" stroke-linejoin="round"/>
<polyline points="237.5,567.6 237.6,587.0" fill="none" stroke="#1c1c1c" stroke-width="1.2" stroke-linejoin="round" stroke-linecap="round"/>
<polyline points="238.9,568.2 239.0,586.6" fill="none" stroke="#555" stroke-width="0.5" stroke-linejoin="round" stroke-linecap="round"/>
<polyline points="215.8,557.2 237.5,567.4" fill="none" stroke="#1c1c1c" stroke-width="0.9" stroke-linejoin="round" stroke-linecap="round"/>
<ellipse cx="228.8" cy="573.9" rx="1.9" ry="2.7" fill="#cde4bc" stroke="#1c1c1c" stroke-width="1.1" transform="rotate(-15 228.8 573.9)"/>
<polygon points="181.3,566.2 189.3,565.4 189.7,596.8 189.7,611.8 181.3,604.0" fill="#cde4bc"/>
<polyline points="181.3,604.0 181.3,566.2 189.3,565.4" fill="none" stroke="#1c1c1c" stroke-width="1.4" stroke-linejoin="round" stroke-linecap="round"/>
<polyline points="189.7,596.8 189.7,612.3" fill="none" stroke="#1c1c1c" stroke-width="1.1" stroke-linejoin="round" stroke-linecap="round"/>
<polyline points="181.3,604.0 189.7,601.6" fill="none" stroke="#1c1c1c" stroke-width="0.8" stroke-linejoin="round" stroke-linecap="round"/>
<polygon points="189.3,565.4 211.0,575.1 212.7,576.1 213.4,577.7 213.4,594.4 212.1,595.8 211.0,596.0 189.7,587.2" fill="#cde4bc" stroke="#1c1c1c" stroke-width="1.2" stroke-linejoin="round"/>
<polyline points="210.8,576.2 210.9,595.6" fill="none" stroke="#1c1c1c" stroke-width="0.9" stroke-linejoin="round" stroke-linecap="round"/>
<polyline points="189.9,566.8 211.0,576.5" fill="none" stroke="#1c1c1c" stroke-width="0.8" stroke-linejoin="round" stroke-linecap="round"/>
<ellipse cx="203.0" cy="582.3" rx="1.9" ry="2.7" fill="#cde4bc" stroke="#1c1c1c" stroke-width="1.1" transform="rotate(-15 203.0 582.3)"/>
<polygon points="184.5,596.0 194.1,594.4 230.3,598.4 232.3,600.4 217.5,605.7 214.5,605.2" fill="#cde4bc" stroke="#1c1c1c" stroke-width="1.0" stroke-linejoin="round"/>
<polyline points="214.5,605.2 214.9,607.0 217.7,607.4 232.3,602.0 232.3,600.4" fill="none" stroke="#1c1c1c" stroke-width="0.9" stroke-linejoin="round" stroke-linecap="round"/>
<ellipse cx="216.7" cy="597.8" rx="2.6" ry="1.1" fill="#cde4bc" stroke="#1c1c1c" stroke-width="0.9" transform="rotate(0 216.7 597.8)"/>
<polyline points="190.9,605.8 210.2,601.6" fill="none" stroke="#1c1c1c" stroke-width="0.8" stroke-linejoin="round" stroke-linecap="round"/>
<polyline points="190.1,611.3 210.2,604.0" fill="none" stroke="#1c1c1c" stroke-width="0.8" stroke-linejoin="round" stroke-linecap="round"/>
<polygon points="135.8,562.3 173.3,548.7 175.6,549.9 175.9,565.1 180.8,565.1 180.8,622.3 161.6,628.3 160.0,631.6 148.6,651.9 132.4,652.7 121.1,650.2 115.4,643.8 114.6,622.7 116.2,617.8 122.7,613.8 126.8,612.1" fill="#cde4bc"/>
<polyline points="126.6,612.1 135.8,562.3 173.3,548.7 174.8,549.1 175.8,550.1 175.9,565.1 180.8,565.1" fill="none" stroke="#1c1c1c" stroke-width="1.8" stroke-linejoin="round" stroke-linecap="round"/>
<polyline points="140.4,564.1 133.8,611.9" fill="none" stroke="#1c1c1c" stroke-width="0.9" stroke-linejoin="round" stroke-linecap="round"/>
<polyline points="137.8,564.2 147.9,564.0 169.6,575.7 179.8,575.1" fill="none" stroke="#1c1c1c" stroke-width="1.0" stroke-linejoin="round" stroke-linecap="round"/>
<polyline points="146.2,564.5 146.2,608.1" fill="none" stroke="#333" stroke-width="1.0" stroke-linejoin="round" stroke-linecap="round"/>
<polyline points="137.4,564.1 172.6,551.5" fill="none" stroke="#1c1c1c" stroke-width="0.8" stroke-linejoin="round" stroke-linecap="round"/>
<polyline points="169.6,576.3 161.4,628.5" fill="none" stroke="#1c1c1c" stroke-width="0.9" stroke-linejoin="round" stroke-linecap="round"/>
<polyline points="172.0,578.7 163.8,628.3" fill="none" stroke="#1c1c1c" stroke-width="0.8" stroke-linejoin="round" stroke-linecap="round"/>
<polyline points="172.0,578.7 179.8,575.9" fill="none" stroke="#1c1c1c" stroke-width="0.8" stroke-linejoin="round" stroke-linecap="round"/>
<polygon points="158.8,555.5 170.2,559.5 171.8,561.1 173.2,569.1 169.8,570.9 158.8,565.9" fill="#cde4bc" stroke="#1c1c1c" stroke-width="0.8" stroke-linejoin="round"/>
<polyline points="126.6,612.1 122.7,613.8 118.0,616.1 115.2,619.3 114.6,622.7 115.4,643.8 117.3,647.9 121.1,650.2 127.8,652.1 132.4,652.7 139.8,652.7 148.6,651.9" fill="none" stroke="#1c1c1c" stroke-width="1.8" stroke-linejoin="round" stroke-linecap="round"/>
<polyline points="114.8,623.8 116.4,626.7 120.8,629.9 127.8,632.5 135.8,634.0 143.8,634.2 151.8,633.5 160.0,631.6" fill="none" stroke="#1c1c1c" stroke-width="0.9" stroke-linejoin="round" stroke-linecap="round"/>
<polyline points="126.8,612.1 132.8,610.8 138.3,609.3 146.2,608.3 149.8,608.6 151.8,609.3" fill="none" stroke="#1c1c1c" stroke-width="0.8" stroke-linejoin="round" stroke-linecap="round"/>
<path d="M127.6,621.9 C129.8,618.8 132.8,617.8 134.8,617.8 L153.5,617.8 C156.8,618.1 157.8,621.3 156.3,622.8 C154.8,624.8 152.8,625.9 150.8,626.3 L134.8,628.3 C130.8,628.3 126.8,624.3 127.6,621.9 Z" fill="none" stroke="#1c1c1c" stroke-width="0.9" stroke-linejoin="round" stroke-linecap="round"/>
<polyline points="143.8,618.1 143.8,627.1" fill="none" stroke="#1c1c1c" stroke-width="0.9" stroke-linejoin="round" stroke-linecap="round"/>
<line x1="308.4" y1="47.1" x2="405.7" y2="11.9" stroke="#1c1c1c" stroke-width="0.9" stroke-linecap="butt"/>
<line x1="354.9" y1="115.7" x2="405.7" y2="99.9" stroke="#1c1c1c" stroke-width="0.9" stroke-linecap="butt"/>
<line x1="354.9" y1="106.0" x2="445.7" y2="149.2" stroke="#1c1c1c" stroke-width="0.9" stroke-linecap="butt"/>
<line x1="356.0" y1="110.5" x2="425.2" y2="137.3" stroke="#1c1c1c" stroke-width="0.9" stroke-linecap="butt"/>
<line x1="138.7" y1="191.8" x2="228.1" y2="234.6" stroke="#1c1c1c" stroke-width="0.9" stroke-linecap="butt"/>
<line x1="148.8" y1="162.8" x2="249.2" y2="207.8" stroke="#1c1c1c" stroke-width="0.9" stroke-linecap="butt"/>
<line x1="40.1" y1="202.7" x2="116.0" y2="176.2" stroke="#1c1c1c" stroke-width="0.9" stroke-linecap="butt"/>
<line x1="114.7" y1="205.2" x2="148.8" y2="193.9" stroke="#1c1c1c" stroke-width="0.9" stroke-linecap="butt"/>
<line x1="280.2" y1="145.9" x2="313.5" y2="160.2" stroke="#1c1c1c" stroke-width="0.9" stroke-linecap="butt"/>
<line x1="225.0" y1="140.7" x2="287.1" y2="170.0" stroke="#1c1c1c" stroke-width="0.9" stroke-linecap="butt"/>
<line x1="127.3" y1="241.6" x2="276.7" y2="187.6" stroke="#1c1c1c" stroke-width="0.9" stroke-linecap="butt"/>
<line x1="276.7" y1="187.6" x2="276.7" y2="153.9" stroke="#1c1c1c" stroke-width="0.9"/>
<polygon points="400.7,15.1 402.2,21.6 399.1,21.6" fill="#1c1c1c"/>
<polygon points="400.7,99.9 399.1,93.4 402.2,93.4" fill="#1c1c1c"/>
<line x1="400.7" y1="15.1" x2="400.7" y2="50.3" stroke="#1c1c1c" stroke-width="0.9" stroke-linecap="butt"/>
<line x1="400.7" y1="61.3" x2="400.7" y2="99.9" stroke="#1c1c1c" stroke-width="0.9" stroke-linecap="butt"/>
<text transform="translate(400.7 60.2) scale(0.74 1)" x="0" y="0" font-family="Liberation Sans, sans-serif" font-weight="bold" font-size="12.2" fill="#1c1c1c" stroke="#1c1c1c" stroke-width="0.45" text-anchor="middle">C</text>
<polygon points="226.5,232.2 232.0,228.4 233.1,231.3" fill="#1c1c1c"/>
<polygon points="441.4,149.2 435.9,153.0 434.8,150.1" fill="#1c1c1c"/>
<line x1="226.5" y1="232.2" x2="325.8" y2="193.8" stroke="#1c1c1c" stroke-width="0.9" stroke-linecap="butt"/>
<line x1="336.1" y1="189.9" x2="441.4" y2="149.2" stroke="#1c1c1c" stroke-width="0.9" stroke-linecap="butt"/>
<text transform="translate(331.1 196.7) scale(0.74 1)" x="0" y="0" font-family="Liberation Sans, sans-serif" font-weight="bold" font-size="12.2" fill="#1c1c1c" stroke="#1c1c1c" stroke-width="0.45" text-anchor="middle">A</text>
<polygon points="248.4,206.2 253.9,202.4 255.0,205.3" fill="#1c1c1c"/>
<polygon points="421.9,138.0 416.4,141.8 415.3,138.9" fill="#1c1c1c"/>
<line x1="248.4" y1="206.2" x2="328.1" y2="174.9" stroke="#1c1c1c" stroke-width="0.9" stroke-linecap="butt"/>
<line x1="338.4" y1="170.8" x2="421.9" y2="138.0" stroke="#1c1c1c" stroke-width="0.9" stroke-linecap="butt"/>
<text transform="translate(332.7 175.8) scale(0.74 1)" x="0" y="0" font-family="Liberation Sans, sans-serif" font-weight="bold" font-size="12.2" fill="#1c1c1c" stroke="#1c1c1c" stroke-width="0.45" text-anchor="middle">D</text>
<polygon points="45.2,202.0 51.7,203.4 50.4,206.2" fill="#1c1c1c"/>
<polygon points="128.6,241.1 122.1,239.7 123.4,236.9" fill="#1c1c1c"/>
<line x1="45.2" y1="202.0" x2="81.2" y2="218.9" stroke="#1c1c1c" stroke-width="0.9" stroke-linecap="butt"/>
<line x1="91.2" y1="223.6" x2="128.6" y2="241.1" stroke="#1c1c1c" stroke-width="0.9" stroke-linecap="butt"/>
<text transform="translate(86.1 225.8) scale(0.74 1)" x="0" y="0" font-family="Liberation Sans, sans-serif" font-weight="bold" font-size="12.2" fill="#1c1c1c" stroke="#1c1c1c" stroke-width="0.45" text-anchor="middle">F</text>
<polygon points="81.8,188.5 88.3,190.0 87.0,192.7" fill="#1c1c1c"/>
<polygon points="116.0,205.2 109.5,203.7 110.8,201.0" fill="#1c1c1c"/>
<line x1="81.8" y1="188.5" x2="93.4" y2="194.1" stroke="#1c1c1c" stroke-width="0.9" stroke-linecap="butt"/>
<line x1="103.2" y1="199.0" x2="116.0" y2="205.2" stroke="#1c1c1c" stroke-width="0.9" stroke-linecap="butt"/>
<text transform="translate(97.8 202.0) scale(0.74 1)" x="0" y="0" font-family="Liberation Sans, sans-serif" font-weight="bold" font-size="12.2" fill="#1c1c1c" stroke="#1c1c1c" stroke-width="0.45" text-anchor="middle">B</text>
<line x1="292.8" y1="166.0" x2="287.1" y2="169.4" stroke="#1c1c1c" stroke-width="0.9" stroke-linecap="butt"/>
<polygon points="287.1,169.4 290.2,165.8 291.8,168.4" fill="#1c1c1c"/>
<line x1="302.0" y1="163.1" x2="311.2" y2="159.7" stroke="#1c1c1c" stroke-width="0.9" stroke-linecap="butt"/>
<polygon points="311.2,159.7 307.5,162.7 306.4,159.8" fill="#1c1c1c"/>
<text transform="translate(297.4 169.8) scale(0.74 1)" x="0" y="0" font-family="Liberation Sans, sans-serif" font-weight="bold" font-size="12.2" fill="#1c1c1c" stroke="#1c1c1c" stroke-width="0.45" text-anchor="middle">E</text>
<line x1="350.5" y1="252.2" x2="428.4" y2="224.1" stroke="#1c1c1c" stroke-width="0.9" stroke-linecap="butt"/>
<line x1="394.9" y1="320.3" x2="428.4" y2="308.4" stroke="#1c1c1c" stroke-width="0.9" stroke-linecap="butt"/>
<line x1="390.0" y1="303.0" x2="489.0" y2="357.1" stroke="#1c1c1c" stroke-width="0.9" stroke-linecap="butt"/>
<line x1="394.0" y1="309.0" x2="468.4" y2="346.2" stroke="#1c1c1c" stroke-width="0.9" stroke-linecap="butt"/>
<line x1="128.4" y1="414.0" x2="220.2" y2="456.8" stroke="#1c1c1c" stroke-width="0.9" stroke-linecap="butt"/>
<line x1="139.0" y1="381.0" x2="243.2" y2="430.1" stroke="#1c1c1c" stroke-width="0.9" stroke-linecap="butt"/>
<line x1="31.9" y1="424.6" x2="107.2" y2="396.8" stroke="#1c1c1c" stroke-width="0.9" stroke-linecap="butt"/>
<line x1="91.4" y1="432.5" x2="140.3" y2="415.3" stroke="#1c1c1c" stroke-width="0.9" stroke-linecap="butt"/>
<line x1="269.9" y1="367.6" x2="307.6" y2="383.2" stroke="#1c1c1c" stroke-width="0.9" stroke-linecap="butt"/>
<line x1="232.2" y1="362.1" x2="280.9" y2="392.4" stroke="#1c1c1c" stroke-width="0.9" stroke-linecap="butt"/>
<line x1="117.8" y1="462.9" x2="268.0" y2="409.0" stroke="#1c1c1c" stroke-width="0.9" stroke-linecap="butt"/>
<line x1="268.0" y1="409.0" x2="268.0" y2="375.0" stroke="#9a9a9a" stroke-width="1.1"/>
<polygon points="423.4,227.3 424.9,233.8 421.8,233.8" fill="#1c1c1c"/>
<polygon points="423.4,308.4 421.8,301.9 424.9,301.9" fill="#1c1c1c"/>
<line x1="423.4" y1="227.3" x2="423.4" y2="261.2" stroke="#1c1c1c" stroke-width="0.9" stroke-linecap="butt"/>
<line x1="423.4" y1="272.2" x2="423.4" y2="308.4" stroke="#1c1c1c" stroke-width="0.9" stroke-linecap="butt"/>
<text transform="translate(423.4 271.1) scale(0.74 1)" x="0" y="0" font-family="Liberation Sans, sans-serif" font-weight="bold" font-size="12.2" fill="#1c1c1c" stroke="#1c1c1c" stroke-width="0.45" text-anchor="middle">C</text>
<polygon points="215.6,452.2 221.2,448.6 222.2,451.5" fill="#1c1c1c"/>
<polygon points="481.4,357.1 475.8,360.7 474.8,357.8" fill="#1c1c1c"/>
<line x1="215.6" y1="452.2" x2="339.7" y2="407.8" stroke="#1c1c1c" stroke-width="0.9" stroke-linecap="butt"/>
<line x1="350.1" y1="404.1" x2="481.4" y2="357.1" stroke="#1c1c1c" stroke-width="0.9" stroke-linecap="butt"/>
<text transform="translate(345.3 411.5) scale(0.74 1)" x="0" y="0" font-family="Liberation Sans, sans-serif" font-weight="bold" font-size="12.2" fill="#1c1c1c" stroke="#1c1c1c" stroke-width="0.45" text-anchor="middle">A</text>
<polygon points="240.5,426.4 246.1,422.7 247.1,425.6" fill="#1c1c1c"/>
<polygon points="461.9,345.2 456.3,348.9 455.3,346.0" fill="#1c1c1c"/>
<line x1="240.5" y1="426.4" x2="343.7" y2="388.5" stroke="#1c1c1c" stroke-width="0.9" stroke-linecap="butt"/>
<line x1="354.1" y1="384.7" x2="461.9" y2="345.2" stroke="#1c1c1c" stroke-width="0.9" stroke-linecap="butt"/>
<text transform="translate(349.0 391.3) scale(0.74 1)" x="0" y="0" font-family="Liberation Sans, sans-serif" font-weight="bold" font-size="12.2" fill="#1c1c1c" stroke="#1c1c1c" stroke-width="0.45" text-anchor="middle">D</text>
<polygon points="37.2,424.1 43.7,425.5 42.4,428.3" fill="#1c1c1c"/>
<polygon points="119.1,462.9 112.6,461.5 113.9,458.7" fill="#1c1c1c"/>
<line x1="37.2" y1="424.1" x2="73.1" y2="441.1" stroke="#1c1c1c" stroke-width="0.9" stroke-linecap="butt"/>
<line x1="83.0" y1="445.8" x2="119.1" y2="462.9" stroke="#1c1c1c" stroke-width="0.9" stroke-linecap="butt"/>
<text transform="translate(77.6 448.8) scale(0.74 1)" x="0" y="0" font-family="Liberation Sans, sans-serif" font-weight="bold" font-size="12.2" fill="#1c1c1c" stroke="#1c1c1c" stroke-width="0.45" text-anchor="middle">F</text>
<polygon points="58.3,416.1 64.9,417.4 63.6,420.2" fill="#1c1c1c"/>
<polygon points="94.0,432.5 87.4,431.2 88.7,428.4" fill="#1c1c1c"/>
<line x1="58.3" y1="416.1" x2="69.1" y2="421.0" stroke="#1c1c1c" stroke-width="0.9" stroke-linecap="butt"/>
<line x1="79.0" y1="425.6" x2="94.0" y2="432.5" stroke="#1c1c1c" stroke-width="0.9" stroke-linecap="butt"/>
<text transform="translate(73.7 428.5) scale(0.74 1)" x="0" y="0" font-family="Liberation Sans, sans-serif" font-weight="bold" font-size="12.2" fill="#1c1c1c" stroke="#1c1c1c" stroke-width="0.45" text-anchor="middle">B</text>
<line x1="283.0" y1="387.0" x2="277.2" y2="389.7" stroke="#1c1c1c" stroke-width="0.9" stroke-linecap="butt"/>
<polygon points="277.2,389.7 280.6,386.4 281.9,389.2" fill="#1c1c1c"/>
<line x1="297.0" y1="383.5" x2="303.0" y2="381.4" stroke="#1c1c1c" stroke-width="0.9" stroke-linecap="butt"/>
<polygon points="303.0,381.4 299.3,384.3 298.2,381.4" fill="#1c1c1c"/>
<text transform="translate(289.2 390.4) scale(0.74 1)" x="0" y="0" font-family="Liberation Sans, sans-serif" font-weight="bold" font-size="12.2" fill="#1c1c1c" stroke="#1c1c1c" stroke-width="0.45" text-anchor="middle">E</text>
<line x1="458.3" y1="458.5" x2="539.3" y2="428.9" stroke="#1c1c1c" stroke-width="0.9" stroke-linecap="butt"/>
<line x1="502.8" y1="526.2" x2="539.0" y2="512.4" stroke="#1c1c1c" stroke-width="0.9" stroke-linecap="butt"/>
<line x1="489.0" y1="511.6" x2="595.0" y2="563.3" stroke="#1c1c1c" stroke-width="0.9" stroke-linecap="butt"/>
<line x1="511.4" y1="524.0" x2="576.0" y2="551.2" stroke="#1c1c1c" stroke-width="0.9" stroke-linecap="butt"/>
<line x1="131.7" y1="654.1" x2="225.7" y2="698.3" stroke="#1c1c1c" stroke-width="0.9" stroke-linecap="butt"/>
<line x1="143.8" y1="622.7" x2="247.2" y2="670.7" stroke="#1c1c1c" stroke-width="0.9" stroke-linecap="butt"/>
<line x1="35.5" y1="665.5" x2="110.0" y2="638.6" stroke="#1c1c1c" stroke-width="0.9" stroke-linecap="butt"/>
<line x1="94.5" y1="673.8" x2="146.2" y2="656.2" stroke="#1c1c1c" stroke-width="0.9" stroke-linecap="butt"/>
<line x1="273.8" y1="615.7" x2="298.6" y2="627.6" stroke="#1c1c1c" stroke-width="0.9" stroke-linecap="butt"/>
<line x1="250.0" y1="583.1" x2="324.5" y2="618.3" stroke="#1c1c1c" stroke-width="0.9" stroke-linecap="butt"/>
<line x1="122.4" y1="703.8" x2="273.3" y2="650.0" stroke="#1c1c1c" stroke-width="0.9" stroke-linecap="butt"/>
<line x1="273.3" y1="650.0" x2="273.3" y2="615.7" stroke="#9a9a9a" stroke-width="1.1"/>
<polygon points="534.5,432.0 536.0,438.5 533.0,438.5" fill="#1c1c1c"/>
<polygon points="534.5,513.0 533.0,506.5 536.0,506.5" fill="#1c1c1c"/>
<line x1="534.5" y1="432.0" x2="534.5" y2="474.5" stroke="#1c1c1c" stroke-width="0.9" stroke-linecap="butt"/>
<line x1="534.5" y1="485.5" x2="534.5" y2="513.0" stroke="#1c1c1c" stroke-width="0.9" stroke-linecap="butt"/>
<text transform="translate(534.5 484.4) scale(0.74 1)" x="0" y="0" font-family="Liberation Sans, sans-serif" font-weight="bold" font-size="12.2" fill="#1c1c1c" stroke="#1c1c1c" stroke-width="0.45" text-anchor="middle">C</text>
<polygon points="222.2,695.7 227.8,692.0 228.8,694.9" fill="#1c1c1c"/>
<polygon points="589.0,562.4 583.4,566.1 582.4,563.2" fill="#1c1c1c"/>
<line x1="222.2" y1="695.7" x2="382.2" y2="637.6" stroke="#1c1c1c" stroke-width="0.9" stroke-linecap="butt"/>
<line x1="392.5" y1="633.8" x2="589.0" y2="562.4" stroke="#1c1c1c" stroke-width="0.9" stroke-linecap="butt"/>
<text transform="translate(387.0 639.2) scale(0.74 1)" x="0" y="0" font-family="Liberation Sans, sans-serif" font-weight="bold" font-size="12.2" fill="#1c1c1c" stroke="#1c1c1c" stroke-width="0.45" text-anchor="middle">A</text>
<polygon points="245.5,668.1 251.1,664.4 252.1,667.3" fill="#1c1c1c"/>
<polygon points="571.7,549.5 566.1,553.2 565.1,550.3" fill="#1c1c1c"/>
<line x1="245.5" y1="668.1" x2="393.9" y2="614.1" stroke="#1c1c1c" stroke-width="0.9" stroke-linecap="butt"/>
<line x1="404.2" y1="610.4" x2="571.7" y2="549.5" stroke="#1c1c1c" stroke-width="0.9" stroke-linecap="butt"/>
<text transform="translate(399.0 616.5) scale(0.74 1)" x="0" y="0" font-family="Liberation Sans, sans-serif" font-weight="bold" font-size="12.2" fill="#1c1c1c" stroke="#1c1c1c" stroke-width="0.45" text-anchor="middle">D</text>
<polygon points="37.6,664.5 44.2,665.7 42.9,668.6" fill="#1c1c1c"/>
<polygon points="125.5,703.8 118.9,702.6 120.2,699.7" fill="#1c1c1c"/>
<line x1="37.6" y1="664.5" x2="77.6" y2="682.4" stroke="#1c1c1c" stroke-width="0.9" stroke-linecap="butt"/>
<line x1="87.6" y1="686.9" x2="125.5" y2="703.8" stroke="#1c1c1c" stroke-width="0.9" stroke-linecap="butt"/>
<text transform="translate(83.1 687.9) scale(0.74 1)" x="0" y="0" font-family="Liberation Sans, sans-serif" font-weight="bold" font-size="12.2" fill="#1c1c1c" stroke="#1c1c1c" stroke-width="0.45" text-anchor="middle">F</text>
<polygon points="63.4,656.2 69.9,657.7 68.5,660.5" fill="#1c1c1c"/>
<polygon points="98.6,673.8 92.1,672.3 93.5,669.5" fill="#1c1c1c"/>
<line x1="63.4" y1="656.2" x2="74.2" y2="661.6" stroke="#1c1c1c" stroke-width="0.9" stroke-linecap="butt"/>
<line x1="84.0" y1="666.5" x2="98.6" y2="673.8" stroke="#1c1c1c" stroke-width="0.9" stroke-linecap="butt"/>
<text transform="translate(79.4 667.9) scale(0.74 1)" x="0" y="0" font-family="Liberation Sans, sans-serif" font-weight="bold" font-size="12.2" fill="#1c1c1c" stroke="#1c1c1c" stroke-width="0.45" text-anchor="middle">B</text>
<line x1="302.2" y1="621.4" x2="294.5" y2="625.0" stroke="#1c1c1c" stroke-width="0.9" stroke-linecap="butt"/>
<polygon points="294.5,625.0 297.9,621.7 299.2,624.5" fill="#1c1c1c"/>
<line x1="312.1" y1="618.8" x2="319.3" y2="615.7" stroke="#1c1c1c" stroke-width="0.9" stroke-linecap="butt"/>
<polygon points="319.3,615.7 315.8,618.9 314.6,616.1" fill="#1c1c1c"/>
<text transform="translate(306.9 624.2) scale(0.74 1)" x="0" y="0" font-family="Liberation Sans, sans-serif" font-weight="bold" font-size="12.2" fill="#1c1c1c" stroke="#1c1c1c" stroke-width="0.45" text-anchor="middle">E</text>
<path d="M600.6,141 L636.8,119.3 Q640,117.6 643.3,118.1 L662.6,119.7 L662.6,112.0 L709.3,83.0 Q712,81.2 715.7,81.4 L751.5,86.0 L709.2,110.9 L707.6,114.4 L649.7,149.8 L601.4,145.8 Z" fill="#b6d69e" stroke="#1c1c1c" stroke-width="1.7" stroke-linejoin="round" stroke-linecap="round"/>
<path d="M601.4,145.8 L649.7,149.8 L707.6,114.4 L707.6,118.5 L651.3,153.9 L648.1,154.7 L643.3,154.7 L601.4,149.8 Z" fill="#b6d69e" stroke="#1c1c1c" stroke-width="1.3" stroke-linejoin="round" stroke-linecap="round"/>
<polyline points="643.3,150.6 643.3,154.7" fill="none" stroke="#1c1c1c" stroke-width="0.6" stroke-linejoin="round" stroke-linecap="round"/>
<path d="M662.6,119.7 Q672,118.5 678,117.8 Q680,116.8 677,115.6 L662.6,112.8" fill="#b6d69e" stroke="#1c1c1c" stroke-width="1.0" stroke-linejoin="round" stroke-linecap="round"/>
<path d="M751.5,86.0 L767.1,166.0 L729.0,190.5 L709.2,110.9 Z" fill="#b6d69e" stroke="#1c1c1c" stroke-width="1.7" stroke-linejoin="round" stroke-linecap="round"/>
<path d="M709.2,110.9 L712.4,110.2 L730.0,190.0 L726.7,192.7 Z" fill="#b6d69e" stroke="#1c1c1c" stroke-width="0.9" stroke-linejoin="round" stroke-linecap="round"/>
<path d="M729.0,190.5 L767.1,166.0 L854.5,176.2 L855.4,181.0 L820.5,201.0 L816.0,202.0 Z" fill="#b6d69e" stroke="#1c1c1c" stroke-width="1.7" stroke-linejoin="round" stroke-linecap="round"/>
<path d="M726.7,192.7 L729.0,190.5 L816.0,201.0 L820.5,201.0 L855.4,181.0 L855.4,183.5 L822.3,203.7 L815.9,203.7 Z" fill="#b6d69e" stroke="#1c1c1c" stroke-width="1.3" stroke-linejoin="round" stroke-linecap="round"/>
<ellipse cx="646.5" cy="135.3" rx="22.5" ry="9.2" transform="rotate(-13 646.5 135.3)" fill="#b6d69e" stroke="#1c1c1c" stroke-width="1.4"/>
<ellipse cx="647.5" cy="136.9" rx="19.9" ry="6.999999999999999" transform="rotate(-13 647.5 136.9)" fill="#fff" stroke="#1c1c1c" stroke-width="1.3"/>
<ellipse cx="765.3" cy="180.7" rx="15.2" ry="6.2" transform="rotate(-8 765.3 180.7)" fill="#b6d69e" stroke="#1c1c1c" stroke-width="1.4"/>
<ellipse cx="766.3" cy="182.29999999999998" rx="12.6" ry="4.0" transform="rotate(-8 766.3 182.29999999999998)" fill="#fff" stroke="#1c1c1c" stroke-width="1.3"/>
<ellipse cx="815.9" cy="186.6" rx="15.0" ry="6.0" transform="rotate(-8 815.9 186.6)" fill="#b6d69e" stroke="#1c1c1c" stroke-width="1.4"/>
<ellipse cx="816.9" cy="188.2" rx="12.4" ry="3.8" transform="rotate(-8 816.9 188.2)" fill="#fff" stroke="#1c1c1c" stroke-width="1.3"/>
<line x1="35" y1="739.5" x2="852" y2="739.5" stroke="#f7f8ee" stroke-width="1"/>
<polygon points="639.4,362.7 641.6,359.9 645.9,357.8 656.8,359.9 667.8,365.4 673.2,369.2 698.3,353.9 699.4,352.3 682.0,340.3 682.0,337.0 687.4,333.5 700.5,335.9 722.4,348.5 724.0,351.8 722.9,356.7 676.5,384.5 671.0,385.6 667.8,384.5 641.6,368.1 639.4,365.4" fill="#cde4bc" stroke="#1c1c1c" stroke-width="1.2" stroke-linejoin="round"/>
<polyline points="639.9,364.9 671.0,382.9 723.5,354.5" fill="none" stroke="#1c1c1c" stroke-width="0.7" stroke-linejoin="round" stroke-linecap="round"/>
<clipPath id="jc1a"><polygon points="639.4,362.7 641.6,359.9 645.9,357.8 656.8,359.9 667.8,365.4 671.5,368.0 661.0,381.0 641.6,368.1 639.4,365.4"/></clipPath><clipPath id="jc1b"><polygon points="682.0,340.3 682.0,337.0 687.4,333.5 700.5,335.9 706.0,339.0 699.6,352.6"/></clipPath>
<path clip-path="url(#jc1a)" d="M635.0,365.0 L649.0,358.0 M637.0,366.1 L651.0,359.1 M639.1,367.3 L653.1,360.3 M641.1,368.4 L655.1,361.4 M643.2,369.5 L657.2,362.5 M645.2,370.6 L659.2,363.6 M647.3,371.8 L661.3,364.8 M649.4,372.9 L663.4,365.9 M651.4,374.0 L665.4,367.0 M653.5,375.2 L667.5,368.2 M655.5,376.3 L669.5,369.3 M657.5,377.4 L671.5,370.4 M659.6,378.6 L673.6,371.6 M661.6,379.7 L675.6,372.7" stroke="#1c1c1c" stroke-width="0.55" fill="none"/>
<path clip-path="url(#jc1b)" d="M677.0,340.0 L691.0,333.0 M679.0,341.1 L693.0,334.1 M681.1,342.3 L695.1,335.3 M683.1,343.4 L697.1,336.4 M685.2,344.5 L699.2,337.5 M687.2,345.6 L701.2,338.6 M689.3,346.8 L703.3,339.8 M691.4,347.9 L705.4,340.9 M693.4,349.0 L707.4,342.0 M695.5,350.2 L709.5,343.2 M697.5,351.3 L711.5,344.3 M699.5,352.4 L713.5,345.4" stroke="#1c1c1c" stroke-width="0.55" fill="none"/>
<polyline points="671.5,368.0 661.0,381.0" fill="none" stroke="#1c1c1c" stroke-width="0.5" stroke-linejoin="round" stroke-linecap="round"/>
<polygon points="726.6,350.1 728.8,347.3 733.1,345.2 744.0,347.3 755.0,352.8 760.4,356.6 785.5,341.3 786.6,339.7 769.2,327.7 769.2,324.4 774.6,320.9 787.7,323.3 809.6,335.9 811.2,339.2 810.1,344.1 763.7,371.9 758.2,373.0 755.0,371.9 728.8,355.5 726.6,352.8" fill="#cde4bc" stroke="#1c1c1c" stroke-width="1.2" stroke-linejoin="round"/>
<polyline points="727.1,352.3 758.2,370.3 810.7,341.9" fill="none" stroke="#1c1c1c" stroke-width="0.7" stroke-linejoin="round" stroke-linecap="round"/>
<clipPath id="jc2a"><polygon points="726.6,350.1 728.8,347.3 733.1,345.2 744.0,347.3 755.0,352.8 758.7,355.4 748.2,368.4 728.8,355.5 726.6,352.8"/></clipPath><clipPath id="jc2b"><polygon points="769.2,327.7 769.2,324.4 774.6,320.9 787.7,323.3 793.2,326.4 786.8,340.0"/></clipPath>
<path clip-path="url(#jc2a)" d="M722.2,352.4 L736.2,345.4 M724.2,353.5 L738.2,346.5 M726.3,354.7 L740.3,347.7 M728.4,355.8 L742.4,348.8 M730.4,356.9 L744.4,349.9 M732.5,358.0 L746.5,351.0 M734.5,359.2 L748.5,352.2 M736.6,360.3 L750.6,353.3 M738.6,361.4 L752.6,354.4 M740.7,362.6 L754.7,355.6 M742.7,363.7 L756.7,356.7 M744.8,364.8 L758.8,357.8 M746.8,366.0 L760.8,359.0 M748.9,367.1 L762.9,360.1" stroke="#1c1c1c" stroke-width="0.55" fill="none"/>
<path clip-path="url(#jc2b)" d="M764.2,327.4 L778.2,320.4 M766.2,328.5 L780.2,321.5 M768.3,329.7 L782.3,322.7 M770.4,330.8 L784.4,323.8 M772.4,331.9 L786.4,324.9 M774.5,333.0 L788.5,326.0 M776.5,334.2 L790.5,327.2 M778.6,335.3 L792.6,328.3 M780.6,336.4 L794.6,329.4 M782.7,337.6 L796.7,330.6 M784.7,338.7 L798.7,331.7 M786.8,339.8 L800.8,332.8" stroke="#1c1c1c" stroke-width="0.55" fill="none"/>
<polyline points="758.7,355.4 748.2,368.4" fill="none" stroke="#1c1c1c" stroke-width="0.5" stroke-linejoin="round" stroke-linecap="round"/>
<text transform="translate(49.7 156.4) scale(0.724 1)" x="0" y="0" font-family="Liberation Sans, sans-serif" font-weight="bold" font-size="12.22" letter-spacing="0.9" fill="#1a1a1a" stroke="#1a1a1a" stroke-width="0.5">ATB -3P FR</text>
<text transform="translate(49.1 379.7) scale(0.696 1)" x="0" y="0" font-family="Liberation Sans, sans-serif" font-weight="bold" font-size="12.92" letter-spacing="0.9" fill="#1a1a1a" stroke="#1a1a1a" stroke-width="0.5">ATB -4P FR</text>
<text transform="translate(51.0 608.2) scale(0.679 1)" x="0" y="0" font-family="Liberation Sans, sans-serif" font-weight="bold" font-size="13.19" letter-spacing="0.9" fill="#1a1a1a" stroke="#1a1a1a" stroke-width="0.5">ATB -6P FR</text>
<text transform="translate(456.2 123.1) scale(0.813 1)" x="0" y="0" font-family="Liberation Sans, sans-serif" font-weight="bold" font-size="21.53" letter-spacing="0" fill="#1a1a1a" stroke="#1a1a1a" stroke-width="0.5">9450</text>
<text transform="translate(456.5 301.9) scale(0.835 1)" x="0" y="0" font-family="Liberation Sans, sans-serif" font-weight="bold" font-size="20.97" letter-spacing="0" fill="#1a1a1a" stroke="#1a1a1a" stroke-width="0.5">9452</text>
<text transform="translate(456.3 632.7) scale(0.769 1)" x="0" y="0" font-family="Liberation Sans, sans-serif" font-weight="bold" font-size="22.50" letter-spacing="0" fill="#1a1a1a" stroke="#1a1a1a" stroke-width="0.5">9454</text>
<text transform="translate(669.8 185.9) scale(0.834 1)" x="0" y="0" font-family="Liberation Sans, sans-serif" font-weight="bold" font-size="21.53" letter-spacing="0" fill="#1a1a1a" stroke="#1a1a1a" stroke-width="0.5">9457</text>
<text transform="translate(655.9 250.0) scale(0.660 1)" x="0" y="0" font-family="Liberation Sans, sans-serif" font-weight="bold" font-size="22.50" letter-spacing="2.2" fill="#1a1a1a" stroke="#1a1a1a" stroke-width="0.5">GROUND CONTACT</text>
<text transform="translate(698.4 394.8) scale(0.778 1)" x="0" y="0" font-family="Liberation Sans, sans-serif" font-weight="bold" font-size="21.11" letter-spacing="0.6" fill="#1a1a1a" stroke="#1a1a1a" stroke-width="0.5">JUMPER</text>
</g>
</svg></body></html>
